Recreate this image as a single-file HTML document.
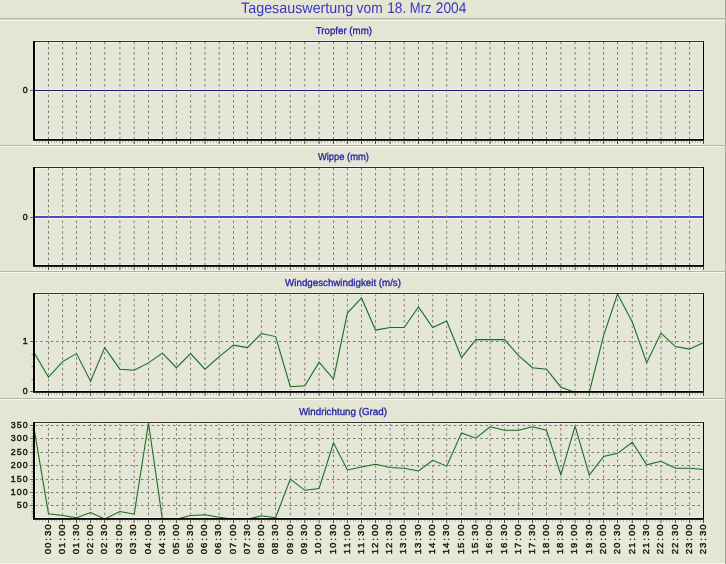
<!DOCTYPE html>
<html><head><meta charset="utf-8"><title>Tagesauswertung</title>
<style>html,body{margin:0;padding:0;background:#E5E5D3;} body{width:726px;height:564px;position:relative;overflow:hidden;}</style>
</head><body>
<svg width="726" height="564" viewBox="0 0 726 564" style="position:absolute;left:0;top:0">
<rect width="726" height="564" fill="#E5E5D3"/>
<rect x="0" y="18" width="726" height="1" fill="#B4B5A4"/>
<rect x="0" y="19" width="726" height="1" fill="#D8D8CA"/>
<rect x="0" y="20" width="726" height="1" fill="#F3F3E8"/>
<rect x="0" y="145" width="726" height="1" fill="#B4B5A4"/>
<rect x="0" y="146" width="726" height="1" fill="#F7F7EE"/>
<rect x="0" y="271" width="726" height="1" fill="#B4B5A4"/>
<rect x="0" y="272" width="726" height="1" fill="#F7F7EE"/>
<rect x="0" y="398" width="726" height="1" fill="#B4B5A4"/>
<rect x="0" y="399" width="726" height="1" fill="#F7F7EE"/>
<rect x="725" y="0" width="1" height="564" fill="#A9AA9A"/>
<rect x="0" y="563" width="725" height="1" fill="#F6F6EA"/>
<text x="241.1" y="13.3" textLength="112.1" text-rendering="geometricPrecision" lengthAdjust="spacingAndGlyphs" font-family="'Liberation Sans', sans-serif" font-size="15.3" fill="#3838C4">Tagesauswertung</text>
<text x="356.6" y="13.3" textLength="26.0" text-rendering="geometricPrecision" lengthAdjust="spacingAndGlyphs" font-family="'Liberation Sans', sans-serif" font-size="15.3" fill="#3838C4">vom</text>
<text x="387.2" y="13.3" textLength="19.1" text-rendering="geometricPrecision" lengthAdjust="spacingAndGlyphs" font-family="'Liberation Sans', sans-serif" font-size="15.3" fill="#3838C4">18.</text>
<text x="409.85" y="13.3" textLength="21.7" text-rendering="geometricPrecision" lengthAdjust="spacingAndGlyphs" font-family="'Liberation Sans', sans-serif" font-size="15.3" fill="#3838C4">Mrz</text>
<text x="435.75" y="13.3" textLength="30.6" text-rendering="geometricPrecision" lengthAdjust="spacingAndGlyphs" font-family="'Liberation Sans', sans-serif" font-size="15.3" fill="#3838C4">2004</text>
<rect x="35" y="42" width="668" height="97" fill="#E6E6D8"/>
<rect x="35" y="42" width="668" height="1" fill="#F4F4EC" fill-opacity="0.8"/>
<rect x="35" y="42" width="1" height="97" fill="#F4F4EC" fill-opacity="0.8"/>
<rect x="35" y="138" width="668" height="1" fill="#F4F4EC" fill-opacity="0.7"/>
<rect x="35" y="89" width="668" height="1" fill="#F6F6EE" fill-opacity="0.7"/>
<rect x="35" y="91" width="668" height="1" fill="#F6F6EE" fill-opacity="0.7"/>
<rect x="35" y="90" width="668" height="1" fill="#161674"/>
<line x1="48.5" y1="41.6" x2="48.5" y2="139" stroke="#7A7A70" stroke-width="1" stroke-dasharray="2.5 2.8"/>
<line x1="62.6" y1="41.6" x2="62.6" y2="139" stroke="#7A7A70" stroke-width="1" stroke-dasharray="2.5 2.8"/>
<line x1="76.5" y1="41.6" x2="76.5" y2="139" stroke="#7A7A70" stroke-width="1" stroke-dasharray="2.5 2.8"/>
<line x1="90.6" y1="41.6" x2="90.6" y2="139" stroke="#7A7A70" stroke-width="1" stroke-dasharray="2.5 2.8"/>
<line x1="104.7" y1="41.6" x2="104.7" y2="139" stroke="#7A7A70" stroke-width="1" stroke-dasharray="2.5 2.8"/>
<line x1="119.9" y1="41.6" x2="119.9" y2="139" stroke="#7A7A70" stroke-width="1" stroke-dasharray="2.5 2.8"/>
<line x1="134.2" y1="41.6" x2="134.2" y2="139" stroke="#7A7A70" stroke-width="1" stroke-dasharray="2.5 2.8"/>
<line x1="148.5" y1="41.6" x2="148.5" y2="139" stroke="#7A7A70" stroke-width="1" stroke-dasharray="2.5 2.8"/>
<line x1="162.4" y1="41.6" x2="162.4" y2="139" stroke="#7A7A70" stroke-width="1" stroke-dasharray="2.5 2.8"/>
<line x1="176.4" y1="41.6" x2="176.4" y2="139" stroke="#7A7A70" stroke-width="1" stroke-dasharray="2.5 2.8"/>
<line x1="190.6" y1="41.6" x2="190.6" y2="139" stroke="#7A7A70" stroke-width="1" stroke-dasharray="2.5 2.8"/>
<line x1="205.0" y1="41.6" x2="205.0" y2="139" stroke="#7A7A70" stroke-width="1" stroke-dasharray="2.5 2.8"/>
<line x1="219.2" y1="41.6" x2="219.2" y2="139" stroke="#7A7A70" stroke-width="1" stroke-dasharray="2.5 2.8"/>
<line x1="233.5" y1="41.6" x2="233.5" y2="139" stroke="#7A7A70" stroke-width="1" stroke-dasharray="2.5 2.8"/>
<line x1="247.4" y1="41.6" x2="247.4" y2="139" stroke="#7A7A70" stroke-width="1" stroke-dasharray="2.5 2.8"/>
<line x1="261.4" y1="41.6" x2="261.4" y2="139" stroke="#7A7A70" stroke-width="1" stroke-dasharray="2.5 2.8"/>
<line x1="275.6" y1="41.6" x2="275.6" y2="139" stroke="#7A7A70" stroke-width="1" stroke-dasharray="2.5 2.8"/>
<line x1="290.3" y1="41.6" x2="290.3" y2="139" stroke="#7A7A70" stroke-width="1" stroke-dasharray="2.5 2.8"/>
<line x1="304.8" y1="41.6" x2="304.8" y2="139" stroke="#7A7A70" stroke-width="1" stroke-dasharray="2.5 2.8"/>
<line x1="319.1" y1="41.6" x2="319.1" y2="139" stroke="#7A7A70" stroke-width="1" stroke-dasharray="2.5 2.8"/>
<line x1="333.5" y1="41.6" x2="333.5" y2="139" stroke="#7A7A70" stroke-width="1" stroke-dasharray="2.5 2.8"/>
<line x1="347.4" y1="41.6" x2="347.4" y2="139" stroke="#7A7A70" stroke-width="1" stroke-dasharray="2.5 2.8"/>
<line x1="361.5" y1="41.6" x2="361.5" y2="139" stroke="#7A7A70" stroke-width="1" stroke-dasharray="2.5 2.8"/>
<line x1="375.55" y1="41.6" x2="375.55" y2="139" stroke="#7A7A70" stroke-width="1" stroke-dasharray="2.5 2.8"/>
<line x1="390.1" y1="41.6" x2="390.1" y2="139" stroke="#7A7A70" stroke-width="1" stroke-dasharray="2.5 2.8"/>
<line x1="404.2" y1="41.6" x2="404.2" y2="139" stroke="#7A7A70" stroke-width="1" stroke-dasharray="2.5 2.8"/>
<line x1="418.5" y1="41.6" x2="418.5" y2="139" stroke="#7A7A70" stroke-width="1" stroke-dasharray="2.5 2.8"/>
<line x1="432.7" y1="41.6" x2="432.7" y2="139" stroke="#7A7A70" stroke-width="1" stroke-dasharray="2.5 2.8"/>
<line x1="446.7" y1="41.6" x2="446.7" y2="139" stroke="#7A7A70" stroke-width="1" stroke-dasharray="2.5 2.8"/>
<line x1="461.5" y1="41.6" x2="461.5" y2="139" stroke="#7A7A70" stroke-width="1" stroke-dasharray="2.5 2.8"/>
<line x1="475.9" y1="41.6" x2="475.9" y2="139" stroke="#7A7A70" stroke-width="1" stroke-dasharray="2.5 2.8"/>
<line x1="490.1" y1="41.6" x2="490.1" y2="139" stroke="#7A7A70" stroke-width="1" stroke-dasharray="2.5 2.8"/>
<line x1="504.5" y1="41.6" x2="504.5" y2="139" stroke="#7A7A70" stroke-width="1" stroke-dasharray="2.5 2.8"/>
<line x1="518.6" y1="41.6" x2="518.6" y2="139" stroke="#7A7A70" stroke-width="1" stroke-dasharray="2.5 2.8"/>
<line x1="532.5" y1="41.6" x2="532.5" y2="139" stroke="#7A7A70" stroke-width="1" stroke-dasharray="2.5 2.8"/>
<line x1="546.5" y1="41.6" x2="546.5" y2="139" stroke="#7A7A70" stroke-width="1" stroke-dasharray="2.5 2.8"/>
<line x1="560.9" y1="41.6" x2="560.9" y2="139" stroke="#7A7A70" stroke-width="1" stroke-dasharray="2.5 2.8"/>
<line x1="575.1" y1="41.6" x2="575.1" y2="139" stroke="#7A7A70" stroke-width="1" stroke-dasharray="2.5 2.8"/>
<line x1="589.3" y1="41.6" x2="589.3" y2="139" stroke="#7A7A70" stroke-width="1" stroke-dasharray="2.5 2.8"/>
<line x1="603.6" y1="41.6" x2="603.6" y2="139" stroke="#7A7A70" stroke-width="1" stroke-dasharray="2.5 2.8"/>
<line x1="617.5" y1="41.6" x2="617.5" y2="139" stroke="#7A7A70" stroke-width="1" stroke-dasharray="2.5 2.8"/>
<line x1="632.3" y1="41.6" x2="632.3" y2="139" stroke="#7A7A70" stroke-width="1" stroke-dasharray="2.5 2.8"/>
<line x1="646.7" y1="41.6" x2="646.7" y2="139" stroke="#7A7A70" stroke-width="1" stroke-dasharray="2.5 2.8"/>
<line x1="661.0" y1="41.6" x2="661.0" y2="139" stroke="#7A7A70" stroke-width="1" stroke-dasharray="2.5 2.8"/>
<line x1="675.4" y1="41.6" x2="675.4" y2="139" stroke="#7A7A70" stroke-width="1" stroke-dasharray="2.5 2.8"/>
<line x1="689.6" y1="41.6" x2="689.6" y2="139" stroke="#7A7A70" stroke-width="1" stroke-dasharray="2.5 2.8"/>
<rect x="33" y="40" width="672" height="1" fill="#F2F2E8" fill-opacity="0.7"/>
<rect x="33" y="141" width="671" height="4" fill="#F2F2E8" fill-opacity="0.55"/>
<rect x="33" y="41" width="671" height="1" fill="#2E2E2E"/>
<rect x="33" y="41" width="2" height="100" fill="#000"/>
<rect x="703" y="41" width="1" height="103" fill="#000"/>
<rect x="33" y="139" width="671" height="1" fill="#000"/>
<rect x="33" y="140" width="671" height="1" fill="#2A2A2A"/>
<line x1="48.5" y1="141" x2="48.5" y2="144" stroke="#4A4A44" stroke-width="1"/>
<line x1="62.6" y1="141" x2="62.6" y2="144" stroke="#4A4A44" stroke-width="1"/>
<line x1="76.5" y1="141" x2="76.5" y2="144" stroke="#4A4A44" stroke-width="1"/>
<line x1="90.6" y1="141" x2="90.6" y2="144" stroke="#4A4A44" stroke-width="1"/>
<line x1="104.7" y1="141" x2="104.7" y2="144" stroke="#4A4A44" stroke-width="1"/>
<line x1="119.9" y1="141" x2="119.9" y2="144" stroke="#4A4A44" stroke-width="1"/>
<line x1="134.2" y1="141" x2="134.2" y2="144" stroke="#4A4A44" stroke-width="1"/>
<line x1="148.5" y1="141" x2="148.5" y2="144" stroke="#4A4A44" stroke-width="1"/>
<line x1="162.4" y1="141" x2="162.4" y2="144" stroke="#4A4A44" stroke-width="1"/>
<line x1="176.4" y1="141" x2="176.4" y2="144" stroke="#4A4A44" stroke-width="1"/>
<line x1="190.6" y1="141" x2="190.6" y2="144" stroke="#4A4A44" stroke-width="1"/>
<line x1="205.0" y1="141" x2="205.0" y2="144" stroke="#4A4A44" stroke-width="1"/>
<line x1="219.2" y1="141" x2="219.2" y2="144" stroke="#4A4A44" stroke-width="1"/>
<line x1="233.5" y1="141" x2="233.5" y2="144" stroke="#4A4A44" stroke-width="1"/>
<line x1="247.4" y1="141" x2="247.4" y2="144" stroke="#4A4A44" stroke-width="1"/>
<line x1="261.4" y1="141" x2="261.4" y2="144" stroke="#4A4A44" stroke-width="1"/>
<line x1="275.6" y1="141" x2="275.6" y2="144" stroke="#4A4A44" stroke-width="1"/>
<line x1="290.3" y1="141" x2="290.3" y2="144" stroke="#4A4A44" stroke-width="1"/>
<line x1="304.8" y1="141" x2="304.8" y2="144" stroke="#4A4A44" stroke-width="1"/>
<line x1="319.1" y1="141" x2="319.1" y2="144" stroke="#4A4A44" stroke-width="1"/>
<line x1="333.5" y1="141" x2="333.5" y2="144" stroke="#4A4A44" stroke-width="1"/>
<line x1="347.4" y1="141" x2="347.4" y2="144" stroke="#4A4A44" stroke-width="1"/>
<line x1="361.5" y1="141" x2="361.5" y2="144" stroke="#4A4A44" stroke-width="1"/>
<line x1="375.55" y1="141" x2="375.55" y2="144" stroke="#4A4A44" stroke-width="1"/>
<line x1="390.1" y1="141" x2="390.1" y2="144" stroke="#4A4A44" stroke-width="1"/>
<line x1="404.2" y1="141" x2="404.2" y2="144" stroke="#4A4A44" stroke-width="1"/>
<line x1="418.5" y1="141" x2="418.5" y2="144" stroke="#4A4A44" stroke-width="1"/>
<line x1="432.7" y1="141" x2="432.7" y2="144" stroke="#4A4A44" stroke-width="1"/>
<line x1="446.7" y1="141" x2="446.7" y2="144" stroke="#4A4A44" stroke-width="1"/>
<line x1="461.5" y1="141" x2="461.5" y2="144" stroke="#4A4A44" stroke-width="1"/>
<line x1="475.9" y1="141" x2="475.9" y2="144" stroke="#4A4A44" stroke-width="1"/>
<line x1="490.1" y1="141" x2="490.1" y2="144" stroke="#4A4A44" stroke-width="1"/>
<line x1="504.5" y1="141" x2="504.5" y2="144" stroke="#4A4A44" stroke-width="1"/>
<line x1="518.6" y1="141" x2="518.6" y2="144" stroke="#4A4A44" stroke-width="1"/>
<line x1="532.5" y1="141" x2="532.5" y2="144" stroke="#4A4A44" stroke-width="1"/>
<line x1="546.5" y1="141" x2="546.5" y2="144" stroke="#4A4A44" stroke-width="1"/>
<line x1="560.9" y1="141" x2="560.9" y2="144" stroke="#4A4A44" stroke-width="1"/>
<line x1="575.1" y1="141" x2="575.1" y2="144" stroke="#4A4A44" stroke-width="1"/>
<line x1="589.3" y1="141" x2="589.3" y2="144" stroke="#4A4A44" stroke-width="1"/>
<line x1="603.6" y1="141" x2="603.6" y2="144" stroke="#4A4A44" stroke-width="1"/>
<line x1="617.5" y1="141" x2="617.5" y2="144" stroke="#4A4A44" stroke-width="1"/>
<line x1="632.3" y1="141" x2="632.3" y2="144" stroke="#4A4A44" stroke-width="1"/>
<line x1="646.7" y1="141" x2="646.7" y2="144" stroke="#4A4A44" stroke-width="1"/>
<line x1="661.0" y1="141" x2="661.0" y2="144" stroke="#4A4A44" stroke-width="1"/>
<line x1="675.4" y1="141" x2="675.4" y2="144" stroke="#4A4A44" stroke-width="1"/>
<line x1="689.6" y1="141" x2="689.6" y2="144" stroke="#4A4A44" stroke-width="1"/>
<line x1="703.5" y1="141" x2="703.5" y2="144" stroke="#4A4A44" stroke-width="1"/>
<line x1="36.5" y1="141.5" x2="36.5" y2="142.5" stroke="#8A8A80" stroke-width="1"/>
<line x1="39.5" y1="141.5" x2="39.5" y2="142.5" stroke="#8A8A80" stroke-width="1"/>
<line x1="42.5" y1="141.5" x2="42.5" y2="142.5" stroke="#8A8A80" stroke-width="1"/>
<line x1="45.5" y1="141.5" x2="45.5" y2="142.5" stroke="#8A8A80" stroke-width="1"/>
<line x1="51.5" y1="141.5" x2="51.5" y2="142.5" stroke="#8A8A80" stroke-width="1"/>
<line x1="54.5" y1="141.5" x2="54.5" y2="142.5" stroke="#8A8A80" stroke-width="1"/>
<line x1="56.5" y1="141.5" x2="56.5" y2="142.5" stroke="#8A8A80" stroke-width="1"/>
<line x1="59.5" y1="141.5" x2="59.5" y2="142.5" stroke="#8A8A80" stroke-width="1"/>
<line x1="65.5" y1="141.5" x2="65.5" y2="142.5" stroke="#8A8A80" stroke-width="1"/>
<line x1="68.5" y1="141.5" x2="68.5" y2="142.5" stroke="#8A8A80" stroke-width="1"/>
<line x1="70.5" y1="141.5" x2="70.5" y2="142.5" stroke="#8A8A80" stroke-width="1"/>
<line x1="73.5" y1="141.5" x2="73.5" y2="142.5" stroke="#8A8A80" stroke-width="1"/>
<line x1="79.5" y1="141.5" x2="79.5" y2="142.5" stroke="#8A8A80" stroke-width="1"/>
<line x1="82.5" y1="141.5" x2="82.5" y2="142.5" stroke="#8A8A80" stroke-width="1"/>
<line x1="84.5" y1="141.5" x2="84.5" y2="142.5" stroke="#8A8A80" stroke-width="1"/>
<line x1="87.5" y1="141.5" x2="87.5" y2="142.5" stroke="#8A8A80" stroke-width="1"/>
<line x1="93.5" y1="141.5" x2="93.5" y2="142.5" stroke="#8A8A80" stroke-width="1"/>
<line x1="96.5" y1="141.5" x2="96.5" y2="142.5" stroke="#8A8A80" stroke-width="1"/>
<line x1="99.5" y1="141.5" x2="99.5" y2="142.5" stroke="#8A8A80" stroke-width="1"/>
<line x1="101.5" y1="141.5" x2="101.5" y2="142.5" stroke="#8A8A80" stroke-width="1"/>
<line x1="107.5" y1="141.5" x2="107.5" y2="142.5" stroke="#8A8A80" stroke-width="1"/>
<line x1="110.5" y1="141.5" x2="110.5" y2="142.5" stroke="#8A8A80" stroke-width="1"/>
<line x1="113.5" y1="141.5" x2="113.5" y2="142.5" stroke="#8A8A80" stroke-width="1"/>
<line x1="116.5" y1="141.5" x2="116.5" y2="142.5" stroke="#8A8A80" stroke-width="1"/>
<line x1="122.5" y1="141.5" x2="122.5" y2="142.5" stroke="#8A8A80" stroke-width="1"/>
<line x1="125.5" y1="141.5" x2="125.5" y2="142.5" stroke="#8A8A80" stroke-width="1"/>
<line x1="128.5" y1="141.5" x2="128.5" y2="142.5" stroke="#8A8A80" stroke-width="1"/>
<line x1="131.5" y1="141.5" x2="131.5" y2="142.5" stroke="#8A8A80" stroke-width="1"/>
<line x1="137.5" y1="141.5" x2="137.5" y2="142.5" stroke="#8A8A80" stroke-width="1"/>
<line x1="139.5" y1="141.5" x2="139.5" y2="142.5" stroke="#8A8A80" stroke-width="1"/>
<line x1="142.5" y1="141.5" x2="142.5" y2="142.5" stroke="#8A8A80" stroke-width="1"/>
<line x1="145.5" y1="141.5" x2="145.5" y2="142.5" stroke="#8A8A80" stroke-width="1"/>
<line x1="151.5" y1="141.5" x2="151.5" y2="142.5" stroke="#8A8A80" stroke-width="1"/>
<line x1="154.5" y1="141.5" x2="154.5" y2="142.5" stroke="#8A8A80" stroke-width="1"/>
<line x1="156.5" y1="141.5" x2="156.5" y2="142.5" stroke="#8A8A80" stroke-width="1"/>
<line x1="159.5" y1="141.5" x2="159.5" y2="142.5" stroke="#8A8A80" stroke-width="1"/>
<line x1="165.5" y1="141.5" x2="165.5" y2="142.5" stroke="#8A8A80" stroke-width="1"/>
<line x1="168.5" y1="141.5" x2="168.5" y2="142.5" stroke="#8A8A80" stroke-width="1"/>
<line x1="170.5" y1="141.5" x2="170.5" y2="142.5" stroke="#8A8A80" stroke-width="1"/>
<line x1="173.5" y1="141.5" x2="173.5" y2="142.5" stroke="#8A8A80" stroke-width="1"/>
<line x1="179.5" y1="141.5" x2="179.5" y2="142.5" stroke="#8A8A80" stroke-width="1"/>
<line x1="182.5" y1="141.5" x2="182.5" y2="142.5" stroke="#8A8A80" stroke-width="1"/>
<line x1="184.5" y1="141.5" x2="184.5" y2="142.5" stroke="#8A8A80" stroke-width="1"/>
<line x1="187.5" y1="141.5" x2="187.5" y2="142.5" stroke="#8A8A80" stroke-width="1"/>
<line x1="193.5" y1="141.5" x2="193.5" y2="142.5" stroke="#8A8A80" stroke-width="1"/>
<line x1="196.5" y1="141.5" x2="196.5" y2="142.5" stroke="#8A8A80" stroke-width="1"/>
<line x1="199.5" y1="141.5" x2="199.5" y2="142.5" stroke="#8A8A80" stroke-width="1"/>
<line x1="202.5" y1="141.5" x2="202.5" y2="142.5" stroke="#8A8A80" stroke-width="1"/>
<line x1="207.5" y1="141.5" x2="207.5" y2="142.5" stroke="#8A8A80" stroke-width="1"/>
<line x1="210.5" y1="141.5" x2="210.5" y2="142.5" stroke="#8A8A80" stroke-width="1"/>
<line x1="213.5" y1="141.5" x2="213.5" y2="142.5" stroke="#8A8A80" stroke-width="1"/>
<line x1="216.5" y1="141.5" x2="216.5" y2="142.5" stroke="#8A8A80" stroke-width="1"/>
<line x1="222.5" y1="141.5" x2="222.5" y2="142.5" stroke="#8A8A80" stroke-width="1"/>
<line x1="224.5" y1="141.5" x2="224.5" y2="142.5" stroke="#8A8A80" stroke-width="1"/>
<line x1="227.5" y1="141.5" x2="227.5" y2="142.5" stroke="#8A8A80" stroke-width="1"/>
<line x1="230.5" y1="141.5" x2="230.5" y2="142.5" stroke="#8A8A80" stroke-width="1"/>
<line x1="236.5" y1="141.5" x2="236.5" y2="142.5" stroke="#8A8A80" stroke-width="1"/>
<line x1="239.5" y1="141.5" x2="239.5" y2="142.5" stroke="#8A8A80" stroke-width="1"/>
<line x1="241.5" y1="141.5" x2="241.5" y2="142.5" stroke="#8A8A80" stroke-width="1"/>
<line x1="244.5" y1="141.5" x2="244.5" y2="142.5" stroke="#8A8A80" stroke-width="1"/>
<line x1="250.5" y1="141.5" x2="250.5" y2="142.5" stroke="#8A8A80" stroke-width="1"/>
<line x1="252.5" y1="141.5" x2="252.5" y2="142.5" stroke="#8A8A80" stroke-width="1"/>
<line x1="255.5" y1="141.5" x2="255.5" y2="142.5" stroke="#8A8A80" stroke-width="1"/>
<line x1="258.5" y1="141.5" x2="258.5" y2="142.5" stroke="#8A8A80" stroke-width="1"/>
<line x1="264.5" y1="141.5" x2="264.5" y2="142.5" stroke="#8A8A80" stroke-width="1"/>
<line x1="267.5" y1="141.5" x2="267.5" y2="142.5" stroke="#8A8A80" stroke-width="1"/>
<line x1="269.5" y1="141.5" x2="269.5" y2="142.5" stroke="#8A8A80" stroke-width="1"/>
<line x1="272.5" y1="141.5" x2="272.5" y2="142.5" stroke="#8A8A80" stroke-width="1"/>
<line x1="278.5" y1="141.5" x2="278.5" y2="142.5" stroke="#8A8A80" stroke-width="1"/>
<line x1="281.5" y1="141.5" x2="281.5" y2="142.5" stroke="#8A8A80" stroke-width="1"/>
<line x1="284.5" y1="141.5" x2="284.5" y2="142.5" stroke="#8A8A80" stroke-width="1"/>
<line x1="287.5" y1="141.5" x2="287.5" y2="142.5" stroke="#8A8A80" stroke-width="1"/>
<line x1="293.5" y1="141.5" x2="293.5" y2="142.5" stroke="#8A8A80" stroke-width="1"/>
<line x1="296.5" y1="141.5" x2="296.5" y2="142.5" stroke="#8A8A80" stroke-width="1"/>
<line x1="298.5" y1="141.5" x2="298.5" y2="142.5" stroke="#8A8A80" stroke-width="1"/>
<line x1="301.5" y1="141.5" x2="301.5" y2="142.5" stroke="#8A8A80" stroke-width="1"/>
<line x1="307.5" y1="141.5" x2="307.5" y2="142.5" stroke="#8A8A80" stroke-width="1"/>
<line x1="310.5" y1="141.5" x2="310.5" y2="142.5" stroke="#8A8A80" stroke-width="1"/>
<line x1="313.5" y1="141.5" x2="313.5" y2="142.5" stroke="#8A8A80" stroke-width="1"/>
<line x1="316.5" y1="141.5" x2="316.5" y2="142.5" stroke="#8A8A80" stroke-width="1"/>
<line x1="321.5" y1="141.5" x2="321.5" y2="142.5" stroke="#8A8A80" stroke-width="1"/>
<line x1="324.5" y1="141.5" x2="324.5" y2="142.5" stroke="#8A8A80" stroke-width="1"/>
<line x1="327.5" y1="141.5" x2="327.5" y2="142.5" stroke="#8A8A80" stroke-width="1"/>
<line x1="330.5" y1="141.5" x2="330.5" y2="142.5" stroke="#8A8A80" stroke-width="1"/>
<line x1="336.5" y1="141.5" x2="336.5" y2="142.5" stroke="#8A8A80" stroke-width="1"/>
<line x1="339.5" y1="141.5" x2="339.5" y2="142.5" stroke="#8A8A80" stroke-width="1"/>
<line x1="341.5" y1="141.5" x2="341.5" y2="142.5" stroke="#8A8A80" stroke-width="1"/>
<line x1="344.5" y1="141.5" x2="344.5" y2="142.5" stroke="#8A8A80" stroke-width="1"/>
<line x1="350.5" y1="141.5" x2="350.5" y2="142.5" stroke="#8A8A80" stroke-width="1"/>
<line x1="353.5" y1="141.5" x2="353.5" y2="142.5" stroke="#8A8A80" stroke-width="1"/>
<line x1="355.5" y1="141.5" x2="355.5" y2="142.5" stroke="#8A8A80" stroke-width="1"/>
<line x1="358.5" y1="141.5" x2="358.5" y2="142.5" stroke="#8A8A80" stroke-width="1"/>
<line x1="364.5" y1="141.5" x2="364.5" y2="142.5" stroke="#8A8A80" stroke-width="1"/>
<line x1="367.5" y1="141.5" x2="367.5" y2="142.5" stroke="#8A8A80" stroke-width="1"/>
<line x1="369.5" y1="141.5" x2="369.5" y2="142.5" stroke="#8A8A80" stroke-width="1"/>
<line x1="372.5" y1="141.5" x2="372.5" y2="142.5" stroke="#8A8A80" stroke-width="1"/>
<line x1="378.5" y1="141.5" x2="378.5" y2="142.5" stroke="#8A8A80" stroke-width="1"/>
<line x1="381.5" y1="141.5" x2="381.5" y2="142.5" stroke="#8A8A80" stroke-width="1"/>
<line x1="384.5" y1="141.5" x2="384.5" y2="142.5" stroke="#8A8A80" stroke-width="1"/>
<line x1="387.5" y1="141.5" x2="387.5" y2="142.5" stroke="#8A8A80" stroke-width="1"/>
<line x1="392.5" y1="141.5" x2="392.5" y2="142.5" stroke="#8A8A80" stroke-width="1"/>
<line x1="395.5" y1="141.5" x2="395.5" y2="142.5" stroke="#8A8A80" stroke-width="1"/>
<line x1="398.5" y1="141.5" x2="398.5" y2="142.5" stroke="#8A8A80" stroke-width="1"/>
<line x1="401.5" y1="141.5" x2="401.5" y2="142.5" stroke="#8A8A80" stroke-width="1"/>
<line x1="407.5" y1="141.5" x2="407.5" y2="142.5" stroke="#8A8A80" stroke-width="1"/>
<line x1="409.5" y1="141.5" x2="409.5" y2="142.5" stroke="#8A8A80" stroke-width="1"/>
<line x1="412.5" y1="141.5" x2="412.5" y2="142.5" stroke="#8A8A80" stroke-width="1"/>
<line x1="415.5" y1="141.5" x2="415.5" y2="142.5" stroke="#8A8A80" stroke-width="1"/>
<line x1="421.5" y1="141.5" x2="421.5" y2="142.5" stroke="#8A8A80" stroke-width="1"/>
<line x1="424.5" y1="141.5" x2="424.5" y2="142.5" stroke="#8A8A80" stroke-width="1"/>
<line x1="427.5" y1="141.5" x2="427.5" y2="142.5" stroke="#8A8A80" stroke-width="1"/>
<line x1="429.5" y1="141.5" x2="429.5" y2="142.5" stroke="#8A8A80" stroke-width="1"/>
<line x1="435.5" y1="141.5" x2="435.5" y2="142.5" stroke="#8A8A80" stroke-width="1"/>
<line x1="438.5" y1="141.5" x2="438.5" y2="142.5" stroke="#8A8A80" stroke-width="1"/>
<line x1="441.5" y1="141.5" x2="441.5" y2="142.5" stroke="#8A8A80" stroke-width="1"/>
<line x1="443.5" y1="141.5" x2="443.5" y2="142.5" stroke="#8A8A80" stroke-width="1"/>
<line x1="449.5" y1="141.5" x2="449.5" y2="142.5" stroke="#8A8A80" stroke-width="1"/>
<line x1="452.5" y1="141.5" x2="452.5" y2="142.5" stroke="#8A8A80" stroke-width="1"/>
<line x1="455.5" y1="141.5" x2="455.5" y2="142.5" stroke="#8A8A80" stroke-width="1"/>
<line x1="458.5" y1="141.5" x2="458.5" y2="142.5" stroke="#8A8A80" stroke-width="1"/>
<line x1="464.5" y1="141.5" x2="464.5" y2="142.5" stroke="#8A8A80" stroke-width="1"/>
<line x1="467.5" y1="141.5" x2="467.5" y2="142.5" stroke="#8A8A80" stroke-width="1"/>
<line x1="470.5" y1="141.5" x2="470.5" y2="142.5" stroke="#8A8A80" stroke-width="1"/>
<line x1="473.5" y1="141.5" x2="473.5" y2="142.5" stroke="#8A8A80" stroke-width="1"/>
<line x1="478.5" y1="141.5" x2="478.5" y2="142.5" stroke="#8A8A80" stroke-width="1"/>
<line x1="481.5" y1="141.5" x2="481.5" y2="142.5" stroke="#8A8A80" stroke-width="1"/>
<line x1="484.5" y1="141.5" x2="484.5" y2="142.5" stroke="#8A8A80" stroke-width="1"/>
<line x1="487.5" y1="141.5" x2="487.5" y2="142.5" stroke="#8A8A80" stroke-width="1"/>
<line x1="492.5" y1="141.5" x2="492.5" y2="142.5" stroke="#8A8A80" stroke-width="1"/>
<line x1="495.5" y1="141.5" x2="495.5" y2="142.5" stroke="#8A8A80" stroke-width="1"/>
<line x1="498.5" y1="141.5" x2="498.5" y2="142.5" stroke="#8A8A80" stroke-width="1"/>
<line x1="501.5" y1="141.5" x2="501.5" y2="142.5" stroke="#8A8A80" stroke-width="1"/>
<line x1="507.5" y1="141.5" x2="507.5" y2="142.5" stroke="#8A8A80" stroke-width="1"/>
<line x1="510.5" y1="141.5" x2="510.5" y2="142.5" stroke="#8A8A80" stroke-width="1"/>
<line x1="512.5" y1="141.5" x2="512.5" y2="142.5" stroke="#8A8A80" stroke-width="1"/>
<line x1="515.5" y1="141.5" x2="515.5" y2="142.5" stroke="#8A8A80" stroke-width="1"/>
<line x1="521.5" y1="141.5" x2="521.5" y2="142.5" stroke="#8A8A80" stroke-width="1"/>
<line x1="524.5" y1="141.5" x2="524.5" y2="142.5" stroke="#8A8A80" stroke-width="1"/>
<line x1="526.5" y1="141.5" x2="526.5" y2="142.5" stroke="#8A8A80" stroke-width="1"/>
<line x1="529.5" y1="141.5" x2="529.5" y2="142.5" stroke="#8A8A80" stroke-width="1"/>
<line x1="535.5" y1="141.5" x2="535.5" y2="142.5" stroke="#8A8A80" stroke-width="1"/>
<line x1="538.5" y1="141.5" x2="538.5" y2="142.5" stroke="#8A8A80" stroke-width="1"/>
<line x1="540.5" y1="141.5" x2="540.5" y2="142.5" stroke="#8A8A80" stroke-width="1"/>
<line x1="543.5" y1="141.5" x2="543.5" y2="142.5" stroke="#8A8A80" stroke-width="1"/>
<line x1="549.5" y1="141.5" x2="549.5" y2="142.5" stroke="#8A8A80" stroke-width="1"/>
<line x1="552.5" y1="141.5" x2="552.5" y2="142.5" stroke="#8A8A80" stroke-width="1"/>
<line x1="555.5" y1="141.5" x2="555.5" y2="142.5" stroke="#8A8A80" stroke-width="1"/>
<line x1="558.5" y1="141.5" x2="558.5" y2="142.5" stroke="#8A8A80" stroke-width="1"/>
<line x1="563.5" y1="141.5" x2="563.5" y2="142.5" stroke="#8A8A80" stroke-width="1"/>
<line x1="566.5" y1="141.5" x2="566.5" y2="142.5" stroke="#8A8A80" stroke-width="1"/>
<line x1="569.5" y1="141.5" x2="569.5" y2="142.5" stroke="#8A8A80" stroke-width="1"/>
<line x1="572.5" y1="141.5" x2="572.5" y2="142.5" stroke="#8A8A80" stroke-width="1"/>
<line x1="577.5" y1="141.5" x2="577.5" y2="142.5" stroke="#8A8A80" stroke-width="1"/>
<line x1="580.5" y1="141.5" x2="580.5" y2="142.5" stroke="#8A8A80" stroke-width="1"/>
<line x1="583.5" y1="141.5" x2="583.5" y2="142.5" stroke="#8A8A80" stroke-width="1"/>
<line x1="586.5" y1="141.5" x2="586.5" y2="142.5" stroke="#8A8A80" stroke-width="1"/>
<line x1="592.5" y1="141.5" x2="592.5" y2="142.5" stroke="#8A8A80" stroke-width="1"/>
<line x1="595.5" y1="141.5" x2="595.5" y2="142.5" stroke="#8A8A80" stroke-width="1"/>
<line x1="597.5" y1="141.5" x2="597.5" y2="142.5" stroke="#8A8A80" stroke-width="1"/>
<line x1="600.5" y1="141.5" x2="600.5" y2="142.5" stroke="#8A8A80" stroke-width="1"/>
<line x1="606.5" y1="141.5" x2="606.5" y2="142.5" stroke="#8A8A80" stroke-width="1"/>
<line x1="609.5" y1="141.5" x2="609.5" y2="142.5" stroke="#8A8A80" stroke-width="1"/>
<line x1="611.5" y1="141.5" x2="611.5" y2="142.5" stroke="#8A8A80" stroke-width="1"/>
<line x1="614.5" y1="141.5" x2="614.5" y2="142.5" stroke="#8A8A80" stroke-width="1"/>
<line x1="620.5" y1="141.5" x2="620.5" y2="142.5" stroke="#8A8A80" stroke-width="1"/>
<line x1="623.5" y1="141.5" x2="623.5" y2="142.5" stroke="#8A8A80" stroke-width="1"/>
<line x1="626.5" y1="141.5" x2="626.5" y2="142.5" stroke="#8A8A80" stroke-width="1"/>
<line x1="629.5" y1="141.5" x2="629.5" y2="142.5" stroke="#8A8A80" stroke-width="1"/>
<line x1="635.5" y1="141.5" x2="635.5" y2="142.5" stroke="#8A8A80" stroke-width="1"/>
<line x1="638.5" y1="141.5" x2="638.5" y2="142.5" stroke="#8A8A80" stroke-width="1"/>
<line x1="640.5" y1="141.5" x2="640.5" y2="142.5" stroke="#8A8A80" stroke-width="1"/>
<line x1="643.5" y1="141.5" x2="643.5" y2="142.5" stroke="#8A8A80" stroke-width="1"/>
<line x1="649.5" y1="141.5" x2="649.5" y2="142.5" stroke="#8A8A80" stroke-width="1"/>
<line x1="652.5" y1="141.5" x2="652.5" y2="142.5" stroke="#8A8A80" stroke-width="1"/>
<line x1="655.5" y1="141.5" x2="655.5" y2="142.5" stroke="#8A8A80" stroke-width="1"/>
<line x1="658.5" y1="141.5" x2="658.5" y2="142.5" stroke="#8A8A80" stroke-width="1"/>
<line x1="663.5" y1="141.5" x2="663.5" y2="142.5" stroke="#8A8A80" stroke-width="1"/>
<line x1="666.5" y1="141.5" x2="666.5" y2="142.5" stroke="#8A8A80" stroke-width="1"/>
<line x1="669.5" y1="141.5" x2="669.5" y2="142.5" stroke="#8A8A80" stroke-width="1"/>
<line x1="672.5" y1="141.5" x2="672.5" y2="142.5" stroke="#8A8A80" stroke-width="1"/>
<line x1="678.5" y1="141.5" x2="678.5" y2="142.5" stroke="#8A8A80" stroke-width="1"/>
<line x1="681.5" y1="141.5" x2="681.5" y2="142.5" stroke="#8A8A80" stroke-width="1"/>
<line x1="683.5" y1="141.5" x2="683.5" y2="142.5" stroke="#8A8A80" stroke-width="1"/>
<line x1="686.5" y1="141.5" x2="686.5" y2="142.5" stroke="#8A8A80" stroke-width="1"/>
<line x1="692.5" y1="141.5" x2="692.5" y2="142.5" stroke="#8A8A80" stroke-width="1"/>
<line x1="695.5" y1="141.5" x2="695.5" y2="142.5" stroke="#8A8A80" stroke-width="1"/>
<line x1="697.5" y1="141.5" x2="697.5" y2="142.5" stroke="#8A8A80" stroke-width="1"/>
<line x1="700.5" y1="141.5" x2="700.5" y2="142.5" stroke="#8A8A80" stroke-width="1"/>
<text x="22.70" y="93.00" font-family="'Liberation Sans', sans-serif" font-size="8.8" fill="#111" stroke="#111" stroke-width="0.4">0</text>
<line x1="30" y1="90.5" x2="33" y2="90.5" stroke="#666" stroke-width="1"/>
<text x="343.85" y="33.6" text-anchor="middle" textLength="56.3" lengthAdjust="spacingAndGlyphs" text-rendering="geometricPrecision" font-family="'Liberation Sans', sans-serif" font-size="10.1" fill="#2222A8" stroke="#2222A8" stroke-width="0.3">Tropfer (mm)</text>
<rect x="35" y="168" width="668" height="97" fill="#E6E6D8"/>
<rect x="35" y="168" width="668" height="1" fill="#F4F4EC" fill-opacity="0.8"/>
<rect x="35" y="168" width="1" height="97" fill="#F4F4EC" fill-opacity="0.8"/>
<rect x="35" y="264" width="668" height="1" fill="#F4F4EC" fill-opacity="0.7"/>
<rect x="35" y="215" width="668" height="1" fill="#F6F6EE" fill-opacity="0.7"/>
<rect x="35" y="218" width="668" height="1" fill="#F6F6EE" fill-opacity="0.7"/>
<rect x="35" y="216" width="668" height="2" fill="#4A4ACE"/>
<line x1="48.5" y1="167.6" x2="48.5" y2="265" stroke="#7A7A70" stroke-width="1" stroke-dasharray="2.5 2.8"/>
<line x1="62.6" y1="167.6" x2="62.6" y2="265" stroke="#7A7A70" stroke-width="1" stroke-dasharray="2.5 2.8"/>
<line x1="76.5" y1="167.6" x2="76.5" y2="265" stroke="#7A7A70" stroke-width="1" stroke-dasharray="2.5 2.8"/>
<line x1="90.6" y1="167.6" x2="90.6" y2="265" stroke="#7A7A70" stroke-width="1" stroke-dasharray="2.5 2.8"/>
<line x1="104.7" y1="167.6" x2="104.7" y2="265" stroke="#7A7A70" stroke-width="1" stroke-dasharray="2.5 2.8"/>
<line x1="119.9" y1="167.6" x2="119.9" y2="265" stroke="#7A7A70" stroke-width="1" stroke-dasharray="2.5 2.8"/>
<line x1="134.2" y1="167.6" x2="134.2" y2="265" stroke="#7A7A70" stroke-width="1" stroke-dasharray="2.5 2.8"/>
<line x1="148.5" y1="167.6" x2="148.5" y2="265" stroke="#7A7A70" stroke-width="1" stroke-dasharray="2.5 2.8"/>
<line x1="162.4" y1="167.6" x2="162.4" y2="265" stroke="#7A7A70" stroke-width="1" stroke-dasharray="2.5 2.8"/>
<line x1="176.4" y1="167.6" x2="176.4" y2="265" stroke="#7A7A70" stroke-width="1" stroke-dasharray="2.5 2.8"/>
<line x1="190.6" y1="167.6" x2="190.6" y2="265" stroke="#7A7A70" stroke-width="1" stroke-dasharray="2.5 2.8"/>
<line x1="205.0" y1="167.6" x2="205.0" y2="265" stroke="#7A7A70" stroke-width="1" stroke-dasharray="2.5 2.8"/>
<line x1="219.2" y1="167.6" x2="219.2" y2="265" stroke="#7A7A70" stroke-width="1" stroke-dasharray="2.5 2.8"/>
<line x1="233.5" y1="167.6" x2="233.5" y2="265" stroke="#7A7A70" stroke-width="1" stroke-dasharray="2.5 2.8"/>
<line x1="247.4" y1="167.6" x2="247.4" y2="265" stroke="#7A7A70" stroke-width="1" stroke-dasharray="2.5 2.8"/>
<line x1="261.4" y1="167.6" x2="261.4" y2="265" stroke="#7A7A70" stroke-width="1" stroke-dasharray="2.5 2.8"/>
<line x1="275.6" y1="167.6" x2="275.6" y2="265" stroke="#7A7A70" stroke-width="1" stroke-dasharray="2.5 2.8"/>
<line x1="290.3" y1="167.6" x2="290.3" y2="265" stroke="#7A7A70" stroke-width="1" stroke-dasharray="2.5 2.8"/>
<line x1="304.8" y1="167.6" x2="304.8" y2="265" stroke="#7A7A70" stroke-width="1" stroke-dasharray="2.5 2.8"/>
<line x1="319.1" y1="167.6" x2="319.1" y2="265" stroke="#7A7A70" stroke-width="1" stroke-dasharray="2.5 2.8"/>
<line x1="333.5" y1="167.6" x2="333.5" y2="265" stroke="#7A7A70" stroke-width="1" stroke-dasharray="2.5 2.8"/>
<line x1="347.4" y1="167.6" x2="347.4" y2="265" stroke="#7A7A70" stroke-width="1" stroke-dasharray="2.5 2.8"/>
<line x1="361.5" y1="167.6" x2="361.5" y2="265" stroke="#7A7A70" stroke-width="1" stroke-dasharray="2.5 2.8"/>
<line x1="375.55" y1="167.6" x2="375.55" y2="265" stroke="#7A7A70" stroke-width="1" stroke-dasharray="2.5 2.8"/>
<line x1="390.1" y1="167.6" x2="390.1" y2="265" stroke="#7A7A70" stroke-width="1" stroke-dasharray="2.5 2.8"/>
<line x1="404.2" y1="167.6" x2="404.2" y2="265" stroke="#7A7A70" stroke-width="1" stroke-dasharray="2.5 2.8"/>
<line x1="418.5" y1="167.6" x2="418.5" y2="265" stroke="#7A7A70" stroke-width="1" stroke-dasharray="2.5 2.8"/>
<line x1="432.7" y1="167.6" x2="432.7" y2="265" stroke="#7A7A70" stroke-width="1" stroke-dasharray="2.5 2.8"/>
<line x1="446.7" y1="167.6" x2="446.7" y2="265" stroke="#7A7A70" stroke-width="1" stroke-dasharray="2.5 2.8"/>
<line x1="461.5" y1="167.6" x2="461.5" y2="265" stroke="#7A7A70" stroke-width="1" stroke-dasharray="2.5 2.8"/>
<line x1="475.9" y1="167.6" x2="475.9" y2="265" stroke="#7A7A70" stroke-width="1" stroke-dasharray="2.5 2.8"/>
<line x1="490.1" y1="167.6" x2="490.1" y2="265" stroke="#7A7A70" stroke-width="1" stroke-dasharray="2.5 2.8"/>
<line x1="504.5" y1="167.6" x2="504.5" y2="265" stroke="#7A7A70" stroke-width="1" stroke-dasharray="2.5 2.8"/>
<line x1="518.6" y1="167.6" x2="518.6" y2="265" stroke="#7A7A70" stroke-width="1" stroke-dasharray="2.5 2.8"/>
<line x1="532.5" y1="167.6" x2="532.5" y2="265" stroke="#7A7A70" stroke-width="1" stroke-dasharray="2.5 2.8"/>
<line x1="546.5" y1="167.6" x2="546.5" y2="265" stroke="#7A7A70" stroke-width="1" stroke-dasharray="2.5 2.8"/>
<line x1="560.9" y1="167.6" x2="560.9" y2="265" stroke="#7A7A70" stroke-width="1" stroke-dasharray="2.5 2.8"/>
<line x1="575.1" y1="167.6" x2="575.1" y2="265" stroke="#7A7A70" stroke-width="1" stroke-dasharray="2.5 2.8"/>
<line x1="589.3" y1="167.6" x2="589.3" y2="265" stroke="#7A7A70" stroke-width="1" stroke-dasharray="2.5 2.8"/>
<line x1="603.6" y1="167.6" x2="603.6" y2="265" stroke="#7A7A70" stroke-width="1" stroke-dasharray="2.5 2.8"/>
<line x1="617.5" y1="167.6" x2="617.5" y2="265" stroke="#7A7A70" stroke-width="1" stroke-dasharray="2.5 2.8"/>
<line x1="632.3" y1="167.6" x2="632.3" y2="265" stroke="#7A7A70" stroke-width="1" stroke-dasharray="2.5 2.8"/>
<line x1="646.7" y1="167.6" x2="646.7" y2="265" stroke="#7A7A70" stroke-width="1" stroke-dasharray="2.5 2.8"/>
<line x1="661.0" y1="167.6" x2="661.0" y2="265" stroke="#7A7A70" stroke-width="1" stroke-dasharray="2.5 2.8"/>
<line x1="675.4" y1="167.6" x2="675.4" y2="265" stroke="#7A7A70" stroke-width="1" stroke-dasharray="2.5 2.8"/>
<line x1="689.6" y1="167.6" x2="689.6" y2="265" stroke="#7A7A70" stroke-width="1" stroke-dasharray="2.5 2.8"/>
<rect x="33" y="166" width="672" height="1" fill="#F2F2E8" fill-opacity="0.7"/>
<rect x="33" y="267" width="671" height="4" fill="#F2F2E8" fill-opacity="0.55"/>
<rect x="33" y="167" width="671" height="1" fill="#2E2E2E"/>
<rect x="33" y="167" width="2" height="100" fill="#000"/>
<rect x="703" y="167" width="1" height="103" fill="#000"/>
<rect x="33" y="265" width="671" height="1" fill="#000"/>
<rect x="33" y="266" width="671" height="1" fill="#2A2A2A"/>
<line x1="48.5" y1="267" x2="48.5" y2="270" stroke="#4A4A44" stroke-width="1"/>
<line x1="62.6" y1="267" x2="62.6" y2="270" stroke="#4A4A44" stroke-width="1"/>
<line x1="76.5" y1="267" x2="76.5" y2="270" stroke="#4A4A44" stroke-width="1"/>
<line x1="90.6" y1="267" x2="90.6" y2="270" stroke="#4A4A44" stroke-width="1"/>
<line x1="104.7" y1="267" x2="104.7" y2="270" stroke="#4A4A44" stroke-width="1"/>
<line x1="119.9" y1="267" x2="119.9" y2="270" stroke="#4A4A44" stroke-width="1"/>
<line x1="134.2" y1="267" x2="134.2" y2="270" stroke="#4A4A44" stroke-width="1"/>
<line x1="148.5" y1="267" x2="148.5" y2="270" stroke="#4A4A44" stroke-width="1"/>
<line x1="162.4" y1="267" x2="162.4" y2="270" stroke="#4A4A44" stroke-width="1"/>
<line x1="176.4" y1="267" x2="176.4" y2="270" stroke="#4A4A44" stroke-width="1"/>
<line x1="190.6" y1="267" x2="190.6" y2="270" stroke="#4A4A44" stroke-width="1"/>
<line x1="205.0" y1="267" x2="205.0" y2="270" stroke="#4A4A44" stroke-width="1"/>
<line x1="219.2" y1="267" x2="219.2" y2="270" stroke="#4A4A44" stroke-width="1"/>
<line x1="233.5" y1="267" x2="233.5" y2="270" stroke="#4A4A44" stroke-width="1"/>
<line x1="247.4" y1="267" x2="247.4" y2="270" stroke="#4A4A44" stroke-width="1"/>
<line x1="261.4" y1="267" x2="261.4" y2="270" stroke="#4A4A44" stroke-width="1"/>
<line x1="275.6" y1="267" x2="275.6" y2="270" stroke="#4A4A44" stroke-width="1"/>
<line x1="290.3" y1="267" x2="290.3" y2="270" stroke="#4A4A44" stroke-width="1"/>
<line x1="304.8" y1="267" x2="304.8" y2="270" stroke="#4A4A44" stroke-width="1"/>
<line x1="319.1" y1="267" x2="319.1" y2="270" stroke="#4A4A44" stroke-width="1"/>
<line x1="333.5" y1="267" x2="333.5" y2="270" stroke="#4A4A44" stroke-width="1"/>
<line x1="347.4" y1="267" x2="347.4" y2="270" stroke="#4A4A44" stroke-width="1"/>
<line x1="361.5" y1="267" x2="361.5" y2="270" stroke="#4A4A44" stroke-width="1"/>
<line x1="375.55" y1="267" x2="375.55" y2="270" stroke="#4A4A44" stroke-width="1"/>
<line x1="390.1" y1="267" x2="390.1" y2="270" stroke="#4A4A44" stroke-width="1"/>
<line x1="404.2" y1="267" x2="404.2" y2="270" stroke="#4A4A44" stroke-width="1"/>
<line x1="418.5" y1="267" x2="418.5" y2="270" stroke="#4A4A44" stroke-width="1"/>
<line x1="432.7" y1="267" x2="432.7" y2="270" stroke="#4A4A44" stroke-width="1"/>
<line x1="446.7" y1="267" x2="446.7" y2="270" stroke="#4A4A44" stroke-width="1"/>
<line x1="461.5" y1="267" x2="461.5" y2="270" stroke="#4A4A44" stroke-width="1"/>
<line x1="475.9" y1="267" x2="475.9" y2="270" stroke="#4A4A44" stroke-width="1"/>
<line x1="490.1" y1="267" x2="490.1" y2="270" stroke="#4A4A44" stroke-width="1"/>
<line x1="504.5" y1="267" x2="504.5" y2="270" stroke="#4A4A44" stroke-width="1"/>
<line x1="518.6" y1="267" x2="518.6" y2="270" stroke="#4A4A44" stroke-width="1"/>
<line x1="532.5" y1="267" x2="532.5" y2="270" stroke="#4A4A44" stroke-width="1"/>
<line x1="546.5" y1="267" x2="546.5" y2="270" stroke="#4A4A44" stroke-width="1"/>
<line x1="560.9" y1="267" x2="560.9" y2="270" stroke="#4A4A44" stroke-width="1"/>
<line x1="575.1" y1="267" x2="575.1" y2="270" stroke="#4A4A44" stroke-width="1"/>
<line x1="589.3" y1="267" x2="589.3" y2="270" stroke="#4A4A44" stroke-width="1"/>
<line x1="603.6" y1="267" x2="603.6" y2="270" stroke="#4A4A44" stroke-width="1"/>
<line x1="617.5" y1="267" x2="617.5" y2="270" stroke="#4A4A44" stroke-width="1"/>
<line x1="632.3" y1="267" x2="632.3" y2="270" stroke="#4A4A44" stroke-width="1"/>
<line x1="646.7" y1="267" x2="646.7" y2="270" stroke="#4A4A44" stroke-width="1"/>
<line x1="661.0" y1="267" x2="661.0" y2="270" stroke="#4A4A44" stroke-width="1"/>
<line x1="675.4" y1="267" x2="675.4" y2="270" stroke="#4A4A44" stroke-width="1"/>
<line x1="689.6" y1="267" x2="689.6" y2="270" stroke="#4A4A44" stroke-width="1"/>
<line x1="703.5" y1="267" x2="703.5" y2="270" stroke="#4A4A44" stroke-width="1"/>
<line x1="36.5" y1="267.5" x2="36.5" y2="268.5" stroke="#8A8A80" stroke-width="1"/>
<line x1="39.5" y1="267.5" x2="39.5" y2="268.5" stroke="#8A8A80" stroke-width="1"/>
<line x1="42.5" y1="267.5" x2="42.5" y2="268.5" stroke="#8A8A80" stroke-width="1"/>
<line x1="45.5" y1="267.5" x2="45.5" y2="268.5" stroke="#8A8A80" stroke-width="1"/>
<line x1="51.5" y1="267.5" x2="51.5" y2="268.5" stroke="#8A8A80" stroke-width="1"/>
<line x1="54.5" y1="267.5" x2="54.5" y2="268.5" stroke="#8A8A80" stroke-width="1"/>
<line x1="56.5" y1="267.5" x2="56.5" y2="268.5" stroke="#8A8A80" stroke-width="1"/>
<line x1="59.5" y1="267.5" x2="59.5" y2="268.5" stroke="#8A8A80" stroke-width="1"/>
<line x1="65.5" y1="267.5" x2="65.5" y2="268.5" stroke="#8A8A80" stroke-width="1"/>
<line x1="68.5" y1="267.5" x2="68.5" y2="268.5" stroke="#8A8A80" stroke-width="1"/>
<line x1="70.5" y1="267.5" x2="70.5" y2="268.5" stroke="#8A8A80" stroke-width="1"/>
<line x1="73.5" y1="267.5" x2="73.5" y2="268.5" stroke="#8A8A80" stroke-width="1"/>
<line x1="79.5" y1="267.5" x2="79.5" y2="268.5" stroke="#8A8A80" stroke-width="1"/>
<line x1="82.5" y1="267.5" x2="82.5" y2="268.5" stroke="#8A8A80" stroke-width="1"/>
<line x1="84.5" y1="267.5" x2="84.5" y2="268.5" stroke="#8A8A80" stroke-width="1"/>
<line x1="87.5" y1="267.5" x2="87.5" y2="268.5" stroke="#8A8A80" stroke-width="1"/>
<line x1="93.5" y1="267.5" x2="93.5" y2="268.5" stroke="#8A8A80" stroke-width="1"/>
<line x1="96.5" y1="267.5" x2="96.5" y2="268.5" stroke="#8A8A80" stroke-width="1"/>
<line x1="99.5" y1="267.5" x2="99.5" y2="268.5" stroke="#8A8A80" stroke-width="1"/>
<line x1="101.5" y1="267.5" x2="101.5" y2="268.5" stroke="#8A8A80" stroke-width="1"/>
<line x1="107.5" y1="267.5" x2="107.5" y2="268.5" stroke="#8A8A80" stroke-width="1"/>
<line x1="110.5" y1="267.5" x2="110.5" y2="268.5" stroke="#8A8A80" stroke-width="1"/>
<line x1="113.5" y1="267.5" x2="113.5" y2="268.5" stroke="#8A8A80" stroke-width="1"/>
<line x1="116.5" y1="267.5" x2="116.5" y2="268.5" stroke="#8A8A80" stroke-width="1"/>
<line x1="122.5" y1="267.5" x2="122.5" y2="268.5" stroke="#8A8A80" stroke-width="1"/>
<line x1="125.5" y1="267.5" x2="125.5" y2="268.5" stroke="#8A8A80" stroke-width="1"/>
<line x1="128.5" y1="267.5" x2="128.5" y2="268.5" stroke="#8A8A80" stroke-width="1"/>
<line x1="131.5" y1="267.5" x2="131.5" y2="268.5" stroke="#8A8A80" stroke-width="1"/>
<line x1="137.5" y1="267.5" x2="137.5" y2="268.5" stroke="#8A8A80" stroke-width="1"/>
<line x1="139.5" y1="267.5" x2="139.5" y2="268.5" stroke="#8A8A80" stroke-width="1"/>
<line x1="142.5" y1="267.5" x2="142.5" y2="268.5" stroke="#8A8A80" stroke-width="1"/>
<line x1="145.5" y1="267.5" x2="145.5" y2="268.5" stroke="#8A8A80" stroke-width="1"/>
<line x1="151.5" y1="267.5" x2="151.5" y2="268.5" stroke="#8A8A80" stroke-width="1"/>
<line x1="154.5" y1="267.5" x2="154.5" y2="268.5" stroke="#8A8A80" stroke-width="1"/>
<line x1="156.5" y1="267.5" x2="156.5" y2="268.5" stroke="#8A8A80" stroke-width="1"/>
<line x1="159.5" y1="267.5" x2="159.5" y2="268.5" stroke="#8A8A80" stroke-width="1"/>
<line x1="165.5" y1="267.5" x2="165.5" y2="268.5" stroke="#8A8A80" stroke-width="1"/>
<line x1="168.5" y1="267.5" x2="168.5" y2="268.5" stroke="#8A8A80" stroke-width="1"/>
<line x1="170.5" y1="267.5" x2="170.5" y2="268.5" stroke="#8A8A80" stroke-width="1"/>
<line x1="173.5" y1="267.5" x2="173.5" y2="268.5" stroke="#8A8A80" stroke-width="1"/>
<line x1="179.5" y1="267.5" x2="179.5" y2="268.5" stroke="#8A8A80" stroke-width="1"/>
<line x1="182.5" y1="267.5" x2="182.5" y2="268.5" stroke="#8A8A80" stroke-width="1"/>
<line x1="184.5" y1="267.5" x2="184.5" y2="268.5" stroke="#8A8A80" stroke-width="1"/>
<line x1="187.5" y1="267.5" x2="187.5" y2="268.5" stroke="#8A8A80" stroke-width="1"/>
<line x1="193.5" y1="267.5" x2="193.5" y2="268.5" stroke="#8A8A80" stroke-width="1"/>
<line x1="196.5" y1="267.5" x2="196.5" y2="268.5" stroke="#8A8A80" stroke-width="1"/>
<line x1="199.5" y1="267.5" x2="199.5" y2="268.5" stroke="#8A8A80" stroke-width="1"/>
<line x1="202.5" y1="267.5" x2="202.5" y2="268.5" stroke="#8A8A80" stroke-width="1"/>
<line x1="207.5" y1="267.5" x2="207.5" y2="268.5" stroke="#8A8A80" stroke-width="1"/>
<line x1="210.5" y1="267.5" x2="210.5" y2="268.5" stroke="#8A8A80" stroke-width="1"/>
<line x1="213.5" y1="267.5" x2="213.5" y2="268.5" stroke="#8A8A80" stroke-width="1"/>
<line x1="216.5" y1="267.5" x2="216.5" y2="268.5" stroke="#8A8A80" stroke-width="1"/>
<line x1="222.5" y1="267.5" x2="222.5" y2="268.5" stroke="#8A8A80" stroke-width="1"/>
<line x1="224.5" y1="267.5" x2="224.5" y2="268.5" stroke="#8A8A80" stroke-width="1"/>
<line x1="227.5" y1="267.5" x2="227.5" y2="268.5" stroke="#8A8A80" stroke-width="1"/>
<line x1="230.5" y1="267.5" x2="230.5" y2="268.5" stroke="#8A8A80" stroke-width="1"/>
<line x1="236.5" y1="267.5" x2="236.5" y2="268.5" stroke="#8A8A80" stroke-width="1"/>
<line x1="239.5" y1="267.5" x2="239.5" y2="268.5" stroke="#8A8A80" stroke-width="1"/>
<line x1="241.5" y1="267.5" x2="241.5" y2="268.5" stroke="#8A8A80" stroke-width="1"/>
<line x1="244.5" y1="267.5" x2="244.5" y2="268.5" stroke="#8A8A80" stroke-width="1"/>
<line x1="250.5" y1="267.5" x2="250.5" y2="268.5" stroke="#8A8A80" stroke-width="1"/>
<line x1="252.5" y1="267.5" x2="252.5" y2="268.5" stroke="#8A8A80" stroke-width="1"/>
<line x1="255.5" y1="267.5" x2="255.5" y2="268.5" stroke="#8A8A80" stroke-width="1"/>
<line x1="258.5" y1="267.5" x2="258.5" y2="268.5" stroke="#8A8A80" stroke-width="1"/>
<line x1="264.5" y1="267.5" x2="264.5" y2="268.5" stroke="#8A8A80" stroke-width="1"/>
<line x1="267.5" y1="267.5" x2="267.5" y2="268.5" stroke="#8A8A80" stroke-width="1"/>
<line x1="269.5" y1="267.5" x2="269.5" y2="268.5" stroke="#8A8A80" stroke-width="1"/>
<line x1="272.5" y1="267.5" x2="272.5" y2="268.5" stroke="#8A8A80" stroke-width="1"/>
<line x1="278.5" y1="267.5" x2="278.5" y2="268.5" stroke="#8A8A80" stroke-width="1"/>
<line x1="281.5" y1="267.5" x2="281.5" y2="268.5" stroke="#8A8A80" stroke-width="1"/>
<line x1="284.5" y1="267.5" x2="284.5" y2="268.5" stroke="#8A8A80" stroke-width="1"/>
<line x1="287.5" y1="267.5" x2="287.5" y2="268.5" stroke="#8A8A80" stroke-width="1"/>
<line x1="293.5" y1="267.5" x2="293.5" y2="268.5" stroke="#8A8A80" stroke-width="1"/>
<line x1="296.5" y1="267.5" x2="296.5" y2="268.5" stroke="#8A8A80" stroke-width="1"/>
<line x1="298.5" y1="267.5" x2="298.5" y2="268.5" stroke="#8A8A80" stroke-width="1"/>
<line x1="301.5" y1="267.5" x2="301.5" y2="268.5" stroke="#8A8A80" stroke-width="1"/>
<line x1="307.5" y1="267.5" x2="307.5" y2="268.5" stroke="#8A8A80" stroke-width="1"/>
<line x1="310.5" y1="267.5" x2="310.5" y2="268.5" stroke="#8A8A80" stroke-width="1"/>
<line x1="313.5" y1="267.5" x2="313.5" y2="268.5" stroke="#8A8A80" stroke-width="1"/>
<line x1="316.5" y1="267.5" x2="316.5" y2="268.5" stroke="#8A8A80" stroke-width="1"/>
<line x1="321.5" y1="267.5" x2="321.5" y2="268.5" stroke="#8A8A80" stroke-width="1"/>
<line x1="324.5" y1="267.5" x2="324.5" y2="268.5" stroke="#8A8A80" stroke-width="1"/>
<line x1="327.5" y1="267.5" x2="327.5" y2="268.5" stroke="#8A8A80" stroke-width="1"/>
<line x1="330.5" y1="267.5" x2="330.5" y2="268.5" stroke="#8A8A80" stroke-width="1"/>
<line x1="336.5" y1="267.5" x2="336.5" y2="268.5" stroke="#8A8A80" stroke-width="1"/>
<line x1="339.5" y1="267.5" x2="339.5" y2="268.5" stroke="#8A8A80" stroke-width="1"/>
<line x1="341.5" y1="267.5" x2="341.5" y2="268.5" stroke="#8A8A80" stroke-width="1"/>
<line x1="344.5" y1="267.5" x2="344.5" y2="268.5" stroke="#8A8A80" stroke-width="1"/>
<line x1="350.5" y1="267.5" x2="350.5" y2="268.5" stroke="#8A8A80" stroke-width="1"/>
<line x1="353.5" y1="267.5" x2="353.5" y2="268.5" stroke="#8A8A80" stroke-width="1"/>
<line x1="355.5" y1="267.5" x2="355.5" y2="268.5" stroke="#8A8A80" stroke-width="1"/>
<line x1="358.5" y1="267.5" x2="358.5" y2="268.5" stroke="#8A8A80" stroke-width="1"/>
<line x1="364.5" y1="267.5" x2="364.5" y2="268.5" stroke="#8A8A80" stroke-width="1"/>
<line x1="367.5" y1="267.5" x2="367.5" y2="268.5" stroke="#8A8A80" stroke-width="1"/>
<line x1="369.5" y1="267.5" x2="369.5" y2="268.5" stroke="#8A8A80" stroke-width="1"/>
<line x1="372.5" y1="267.5" x2="372.5" y2="268.5" stroke="#8A8A80" stroke-width="1"/>
<line x1="378.5" y1="267.5" x2="378.5" y2="268.5" stroke="#8A8A80" stroke-width="1"/>
<line x1="381.5" y1="267.5" x2="381.5" y2="268.5" stroke="#8A8A80" stroke-width="1"/>
<line x1="384.5" y1="267.5" x2="384.5" y2="268.5" stroke="#8A8A80" stroke-width="1"/>
<line x1="387.5" y1="267.5" x2="387.5" y2="268.5" stroke="#8A8A80" stroke-width="1"/>
<line x1="392.5" y1="267.5" x2="392.5" y2="268.5" stroke="#8A8A80" stroke-width="1"/>
<line x1="395.5" y1="267.5" x2="395.5" y2="268.5" stroke="#8A8A80" stroke-width="1"/>
<line x1="398.5" y1="267.5" x2="398.5" y2="268.5" stroke="#8A8A80" stroke-width="1"/>
<line x1="401.5" y1="267.5" x2="401.5" y2="268.5" stroke="#8A8A80" stroke-width="1"/>
<line x1="407.5" y1="267.5" x2="407.5" y2="268.5" stroke="#8A8A80" stroke-width="1"/>
<line x1="409.5" y1="267.5" x2="409.5" y2="268.5" stroke="#8A8A80" stroke-width="1"/>
<line x1="412.5" y1="267.5" x2="412.5" y2="268.5" stroke="#8A8A80" stroke-width="1"/>
<line x1="415.5" y1="267.5" x2="415.5" y2="268.5" stroke="#8A8A80" stroke-width="1"/>
<line x1="421.5" y1="267.5" x2="421.5" y2="268.5" stroke="#8A8A80" stroke-width="1"/>
<line x1="424.5" y1="267.5" x2="424.5" y2="268.5" stroke="#8A8A80" stroke-width="1"/>
<line x1="427.5" y1="267.5" x2="427.5" y2="268.5" stroke="#8A8A80" stroke-width="1"/>
<line x1="429.5" y1="267.5" x2="429.5" y2="268.5" stroke="#8A8A80" stroke-width="1"/>
<line x1="435.5" y1="267.5" x2="435.5" y2="268.5" stroke="#8A8A80" stroke-width="1"/>
<line x1="438.5" y1="267.5" x2="438.5" y2="268.5" stroke="#8A8A80" stroke-width="1"/>
<line x1="441.5" y1="267.5" x2="441.5" y2="268.5" stroke="#8A8A80" stroke-width="1"/>
<line x1="443.5" y1="267.5" x2="443.5" y2="268.5" stroke="#8A8A80" stroke-width="1"/>
<line x1="449.5" y1="267.5" x2="449.5" y2="268.5" stroke="#8A8A80" stroke-width="1"/>
<line x1="452.5" y1="267.5" x2="452.5" y2="268.5" stroke="#8A8A80" stroke-width="1"/>
<line x1="455.5" y1="267.5" x2="455.5" y2="268.5" stroke="#8A8A80" stroke-width="1"/>
<line x1="458.5" y1="267.5" x2="458.5" y2="268.5" stroke="#8A8A80" stroke-width="1"/>
<line x1="464.5" y1="267.5" x2="464.5" y2="268.5" stroke="#8A8A80" stroke-width="1"/>
<line x1="467.5" y1="267.5" x2="467.5" y2="268.5" stroke="#8A8A80" stroke-width="1"/>
<line x1="470.5" y1="267.5" x2="470.5" y2="268.5" stroke="#8A8A80" stroke-width="1"/>
<line x1="473.5" y1="267.5" x2="473.5" y2="268.5" stroke="#8A8A80" stroke-width="1"/>
<line x1="478.5" y1="267.5" x2="478.5" y2="268.5" stroke="#8A8A80" stroke-width="1"/>
<line x1="481.5" y1="267.5" x2="481.5" y2="268.5" stroke="#8A8A80" stroke-width="1"/>
<line x1="484.5" y1="267.5" x2="484.5" y2="268.5" stroke="#8A8A80" stroke-width="1"/>
<line x1="487.5" y1="267.5" x2="487.5" y2="268.5" stroke="#8A8A80" stroke-width="1"/>
<line x1="492.5" y1="267.5" x2="492.5" y2="268.5" stroke="#8A8A80" stroke-width="1"/>
<line x1="495.5" y1="267.5" x2="495.5" y2="268.5" stroke="#8A8A80" stroke-width="1"/>
<line x1="498.5" y1="267.5" x2="498.5" y2="268.5" stroke="#8A8A80" stroke-width="1"/>
<line x1="501.5" y1="267.5" x2="501.5" y2="268.5" stroke="#8A8A80" stroke-width="1"/>
<line x1="507.5" y1="267.5" x2="507.5" y2="268.5" stroke="#8A8A80" stroke-width="1"/>
<line x1="510.5" y1="267.5" x2="510.5" y2="268.5" stroke="#8A8A80" stroke-width="1"/>
<line x1="512.5" y1="267.5" x2="512.5" y2="268.5" stroke="#8A8A80" stroke-width="1"/>
<line x1="515.5" y1="267.5" x2="515.5" y2="268.5" stroke="#8A8A80" stroke-width="1"/>
<line x1="521.5" y1="267.5" x2="521.5" y2="268.5" stroke="#8A8A80" stroke-width="1"/>
<line x1="524.5" y1="267.5" x2="524.5" y2="268.5" stroke="#8A8A80" stroke-width="1"/>
<line x1="526.5" y1="267.5" x2="526.5" y2="268.5" stroke="#8A8A80" stroke-width="1"/>
<line x1="529.5" y1="267.5" x2="529.5" y2="268.5" stroke="#8A8A80" stroke-width="1"/>
<line x1="535.5" y1="267.5" x2="535.5" y2="268.5" stroke="#8A8A80" stroke-width="1"/>
<line x1="538.5" y1="267.5" x2="538.5" y2="268.5" stroke="#8A8A80" stroke-width="1"/>
<line x1="540.5" y1="267.5" x2="540.5" y2="268.5" stroke="#8A8A80" stroke-width="1"/>
<line x1="543.5" y1="267.5" x2="543.5" y2="268.5" stroke="#8A8A80" stroke-width="1"/>
<line x1="549.5" y1="267.5" x2="549.5" y2="268.5" stroke="#8A8A80" stroke-width="1"/>
<line x1="552.5" y1="267.5" x2="552.5" y2="268.5" stroke="#8A8A80" stroke-width="1"/>
<line x1="555.5" y1="267.5" x2="555.5" y2="268.5" stroke="#8A8A80" stroke-width="1"/>
<line x1="558.5" y1="267.5" x2="558.5" y2="268.5" stroke="#8A8A80" stroke-width="1"/>
<line x1="563.5" y1="267.5" x2="563.5" y2="268.5" stroke="#8A8A80" stroke-width="1"/>
<line x1="566.5" y1="267.5" x2="566.5" y2="268.5" stroke="#8A8A80" stroke-width="1"/>
<line x1="569.5" y1="267.5" x2="569.5" y2="268.5" stroke="#8A8A80" stroke-width="1"/>
<line x1="572.5" y1="267.5" x2="572.5" y2="268.5" stroke="#8A8A80" stroke-width="1"/>
<line x1="577.5" y1="267.5" x2="577.5" y2="268.5" stroke="#8A8A80" stroke-width="1"/>
<line x1="580.5" y1="267.5" x2="580.5" y2="268.5" stroke="#8A8A80" stroke-width="1"/>
<line x1="583.5" y1="267.5" x2="583.5" y2="268.5" stroke="#8A8A80" stroke-width="1"/>
<line x1="586.5" y1="267.5" x2="586.5" y2="268.5" stroke="#8A8A80" stroke-width="1"/>
<line x1="592.5" y1="267.5" x2="592.5" y2="268.5" stroke="#8A8A80" stroke-width="1"/>
<line x1="595.5" y1="267.5" x2="595.5" y2="268.5" stroke="#8A8A80" stroke-width="1"/>
<line x1="597.5" y1="267.5" x2="597.5" y2="268.5" stroke="#8A8A80" stroke-width="1"/>
<line x1="600.5" y1="267.5" x2="600.5" y2="268.5" stroke="#8A8A80" stroke-width="1"/>
<line x1="606.5" y1="267.5" x2="606.5" y2="268.5" stroke="#8A8A80" stroke-width="1"/>
<line x1="609.5" y1="267.5" x2="609.5" y2="268.5" stroke="#8A8A80" stroke-width="1"/>
<line x1="611.5" y1="267.5" x2="611.5" y2="268.5" stroke="#8A8A80" stroke-width="1"/>
<line x1="614.5" y1="267.5" x2="614.5" y2="268.5" stroke="#8A8A80" stroke-width="1"/>
<line x1="620.5" y1="267.5" x2="620.5" y2="268.5" stroke="#8A8A80" stroke-width="1"/>
<line x1="623.5" y1="267.5" x2="623.5" y2="268.5" stroke="#8A8A80" stroke-width="1"/>
<line x1="626.5" y1="267.5" x2="626.5" y2="268.5" stroke="#8A8A80" stroke-width="1"/>
<line x1="629.5" y1="267.5" x2="629.5" y2="268.5" stroke="#8A8A80" stroke-width="1"/>
<line x1="635.5" y1="267.5" x2="635.5" y2="268.5" stroke="#8A8A80" stroke-width="1"/>
<line x1="638.5" y1="267.5" x2="638.5" y2="268.5" stroke="#8A8A80" stroke-width="1"/>
<line x1="640.5" y1="267.5" x2="640.5" y2="268.5" stroke="#8A8A80" stroke-width="1"/>
<line x1="643.5" y1="267.5" x2="643.5" y2="268.5" stroke="#8A8A80" stroke-width="1"/>
<line x1="649.5" y1="267.5" x2="649.5" y2="268.5" stroke="#8A8A80" stroke-width="1"/>
<line x1="652.5" y1="267.5" x2="652.5" y2="268.5" stroke="#8A8A80" stroke-width="1"/>
<line x1="655.5" y1="267.5" x2="655.5" y2="268.5" stroke="#8A8A80" stroke-width="1"/>
<line x1="658.5" y1="267.5" x2="658.5" y2="268.5" stroke="#8A8A80" stroke-width="1"/>
<line x1="663.5" y1="267.5" x2="663.5" y2="268.5" stroke="#8A8A80" stroke-width="1"/>
<line x1="666.5" y1="267.5" x2="666.5" y2="268.5" stroke="#8A8A80" stroke-width="1"/>
<line x1="669.5" y1="267.5" x2="669.5" y2="268.5" stroke="#8A8A80" stroke-width="1"/>
<line x1="672.5" y1="267.5" x2="672.5" y2="268.5" stroke="#8A8A80" stroke-width="1"/>
<line x1="678.5" y1="267.5" x2="678.5" y2="268.5" stroke="#8A8A80" stroke-width="1"/>
<line x1="681.5" y1="267.5" x2="681.5" y2="268.5" stroke="#8A8A80" stroke-width="1"/>
<line x1="683.5" y1="267.5" x2="683.5" y2="268.5" stroke="#8A8A80" stroke-width="1"/>
<line x1="686.5" y1="267.5" x2="686.5" y2="268.5" stroke="#8A8A80" stroke-width="1"/>
<line x1="692.5" y1="267.5" x2="692.5" y2="268.5" stroke="#8A8A80" stroke-width="1"/>
<line x1="695.5" y1="267.5" x2="695.5" y2="268.5" stroke="#8A8A80" stroke-width="1"/>
<line x1="697.5" y1="267.5" x2="697.5" y2="268.5" stroke="#8A8A80" stroke-width="1"/>
<line x1="700.5" y1="267.5" x2="700.5" y2="268.5" stroke="#8A8A80" stroke-width="1"/>
<text x="22.70" y="219.80" font-family="'Liberation Sans', sans-serif" font-size="8.8" fill="#111" stroke="#111" stroke-width="0.4">0</text>
<line x1="30" y1="217.5" x2="33" y2="217.5" stroke="#666" stroke-width="1"/>
<text x="343.4" y="159.9" text-anchor="middle" textLength="51.0" lengthAdjust="spacingAndGlyphs" text-rendering="geometricPrecision" font-family="'Liberation Sans', sans-serif" font-size="10.1" fill="#2222A8" stroke="#2222A8" stroke-width="0.3">Wippe (mm)</text>
<rect x="35" y="294" width="668" height="97" fill="#E6E6D8"/>
<line x1="48.5" y1="293.6" x2="48.5" y2="391" stroke="#7A7A70" stroke-width="1" stroke-dasharray="2.5 2.8"/>
<line x1="62.6" y1="293.6" x2="62.6" y2="391" stroke="#7A7A70" stroke-width="1" stroke-dasharray="2.5 2.8"/>
<line x1="76.5" y1="293.6" x2="76.5" y2="391" stroke="#7A7A70" stroke-width="1" stroke-dasharray="2.5 2.8"/>
<line x1="90.6" y1="293.6" x2="90.6" y2="391" stroke="#7A7A70" stroke-width="1" stroke-dasharray="2.5 2.8"/>
<line x1="104.7" y1="293.6" x2="104.7" y2="391" stroke="#7A7A70" stroke-width="1" stroke-dasharray="2.5 2.8"/>
<line x1="119.9" y1="293.6" x2="119.9" y2="391" stroke="#7A7A70" stroke-width="1" stroke-dasharray="2.5 2.8"/>
<line x1="134.2" y1="293.6" x2="134.2" y2="391" stroke="#7A7A70" stroke-width="1" stroke-dasharray="2.5 2.8"/>
<line x1="148.5" y1="293.6" x2="148.5" y2="391" stroke="#7A7A70" stroke-width="1" stroke-dasharray="2.5 2.8"/>
<line x1="162.4" y1="293.6" x2="162.4" y2="391" stroke="#7A7A70" stroke-width="1" stroke-dasharray="2.5 2.8"/>
<line x1="176.4" y1="293.6" x2="176.4" y2="391" stroke="#7A7A70" stroke-width="1" stroke-dasharray="2.5 2.8"/>
<line x1="190.6" y1="293.6" x2="190.6" y2="391" stroke="#7A7A70" stroke-width="1" stroke-dasharray="2.5 2.8"/>
<line x1="205.0" y1="293.6" x2="205.0" y2="391" stroke="#7A7A70" stroke-width="1" stroke-dasharray="2.5 2.8"/>
<line x1="219.2" y1="293.6" x2="219.2" y2="391" stroke="#7A7A70" stroke-width="1" stroke-dasharray="2.5 2.8"/>
<line x1="233.5" y1="293.6" x2="233.5" y2="391" stroke="#7A7A70" stroke-width="1" stroke-dasharray="2.5 2.8"/>
<line x1="247.4" y1="293.6" x2="247.4" y2="391" stroke="#7A7A70" stroke-width="1" stroke-dasharray="2.5 2.8"/>
<line x1="261.4" y1="293.6" x2="261.4" y2="391" stroke="#7A7A70" stroke-width="1" stroke-dasharray="2.5 2.8"/>
<line x1="275.6" y1="293.6" x2="275.6" y2="391" stroke="#7A7A70" stroke-width="1" stroke-dasharray="2.5 2.8"/>
<line x1="290.3" y1="293.6" x2="290.3" y2="391" stroke="#7A7A70" stroke-width="1" stroke-dasharray="2.5 2.8"/>
<line x1="304.8" y1="293.6" x2="304.8" y2="391" stroke="#7A7A70" stroke-width="1" stroke-dasharray="2.5 2.8"/>
<line x1="319.1" y1="293.6" x2="319.1" y2="391" stroke="#7A7A70" stroke-width="1" stroke-dasharray="2.5 2.8"/>
<line x1="333.5" y1="293.6" x2="333.5" y2="391" stroke="#7A7A70" stroke-width="1" stroke-dasharray="2.5 2.8"/>
<line x1="347.4" y1="293.6" x2="347.4" y2="391" stroke="#7A7A70" stroke-width="1" stroke-dasharray="2.5 2.8"/>
<line x1="361.5" y1="293.6" x2="361.5" y2="391" stroke="#7A7A70" stroke-width="1" stroke-dasharray="2.5 2.8"/>
<line x1="375.55" y1="293.6" x2="375.55" y2="391" stroke="#7A7A70" stroke-width="1" stroke-dasharray="2.5 2.8"/>
<line x1="390.1" y1="293.6" x2="390.1" y2="391" stroke="#7A7A70" stroke-width="1" stroke-dasharray="2.5 2.8"/>
<line x1="404.2" y1="293.6" x2="404.2" y2="391" stroke="#7A7A70" stroke-width="1" stroke-dasharray="2.5 2.8"/>
<line x1="418.5" y1="293.6" x2="418.5" y2="391" stroke="#7A7A70" stroke-width="1" stroke-dasharray="2.5 2.8"/>
<line x1="432.7" y1="293.6" x2="432.7" y2="391" stroke="#7A7A70" stroke-width="1" stroke-dasharray="2.5 2.8"/>
<line x1="446.7" y1="293.6" x2="446.7" y2="391" stroke="#7A7A70" stroke-width="1" stroke-dasharray="2.5 2.8"/>
<line x1="461.5" y1="293.6" x2="461.5" y2="391" stroke="#7A7A70" stroke-width="1" stroke-dasharray="2.5 2.8"/>
<line x1="475.9" y1="293.6" x2="475.9" y2="391" stroke="#7A7A70" stroke-width="1" stroke-dasharray="2.5 2.8"/>
<line x1="490.1" y1="293.6" x2="490.1" y2="391" stroke="#7A7A70" stroke-width="1" stroke-dasharray="2.5 2.8"/>
<line x1="504.5" y1="293.6" x2="504.5" y2="391" stroke="#7A7A70" stroke-width="1" stroke-dasharray="2.5 2.8"/>
<line x1="518.6" y1="293.6" x2="518.6" y2="391" stroke="#7A7A70" stroke-width="1" stroke-dasharray="2.5 2.8"/>
<line x1="532.5" y1="293.6" x2="532.5" y2="391" stroke="#7A7A70" stroke-width="1" stroke-dasharray="2.5 2.8"/>
<line x1="546.5" y1="293.6" x2="546.5" y2="391" stroke="#7A7A70" stroke-width="1" stroke-dasharray="2.5 2.8"/>
<line x1="560.9" y1="293.6" x2="560.9" y2="391" stroke="#7A7A70" stroke-width="1" stroke-dasharray="2.5 2.8"/>
<line x1="575.1" y1="293.6" x2="575.1" y2="391" stroke="#7A7A70" stroke-width="1" stroke-dasharray="2.5 2.8"/>
<line x1="589.3" y1="293.6" x2="589.3" y2="391" stroke="#7A7A70" stroke-width="1" stroke-dasharray="2.5 2.8"/>
<line x1="603.6" y1="293.6" x2="603.6" y2="391" stroke="#7A7A70" stroke-width="1" stroke-dasharray="2.5 2.8"/>
<line x1="617.5" y1="293.6" x2="617.5" y2="391" stroke="#7A7A70" stroke-width="1" stroke-dasharray="2.5 2.8"/>
<line x1="632.3" y1="293.6" x2="632.3" y2="391" stroke="#7A7A70" stroke-width="1" stroke-dasharray="2.5 2.8"/>
<line x1="646.7" y1="293.6" x2="646.7" y2="391" stroke="#7A7A70" stroke-width="1" stroke-dasharray="2.5 2.8"/>
<line x1="661.0" y1="293.6" x2="661.0" y2="391" stroke="#7A7A70" stroke-width="1" stroke-dasharray="2.5 2.8"/>
<line x1="675.4" y1="293.6" x2="675.4" y2="391" stroke="#7A7A70" stroke-width="1" stroke-dasharray="2.5 2.8"/>
<line x1="689.6" y1="293.6" x2="689.6" y2="391" stroke="#7A7A70" stroke-width="1" stroke-dasharray="2.5 2.8"/>
<line x1="35" y1="341.5" x2="703" y2="341.5" stroke="#7A7A70" stroke-width="1" stroke-dasharray="2.5 2.8"/>
<rect x="35" y="294" width="668" height="1" fill="#F4F4EC" fill-opacity="0.8"/>
<rect x="35" y="294" width="1" height="97" fill="#F4F4EC" fill-opacity="0.8"/>
<rect x="35" y="390" width="668" height="1" fill="#F4F4EC" fill-opacity="0.7"/>
<polyline points="33.50,351.62 48.50,377.17 62.60,361.64 76.50,353.62 90.60,381.18 104.70,347.61 119.90,369.15 134.20,370.16 148.50,362.89 162.40,353.12 176.40,367.65 190.60,353.62 205.00,369.15 219.20,356.63 233.50,345.11 247.40,347.61 261.40,333.58 275.60,336.59 290.30,386.69 304.80,385.69 319.10,362.14 333.50,379.18 347.40,313.04 361.50,298.01 375.55,330.08 390.10,327.57 404.20,327.57 418.50,307.03 432.70,327.57 446.70,321.06 461.50,357.63 475.90,339.60 490.10,339.60 504.50,339.60 518.60,355.63 532.50,367.65 546.50,369.15 560.90,387.19 575.10,392.20 589.30,392.20 603.60,335.59 617.50,294.00 632.30,322.06 646.70,362.64 661.00,333.08 675.40,346.61 689.60,349.12 703.50,342.60" fill="none" stroke="#C8EEC8" stroke-opacity="0.55" stroke-width="3" stroke-linejoin="miter"/>
<polyline points="33.50,351.62 48.50,377.17 62.60,361.64 76.50,353.62 90.60,381.18 104.70,347.61 119.90,369.15 134.20,370.16 148.50,362.89 162.40,353.12 176.40,367.65 190.60,353.62 205.00,369.15 219.20,356.63 233.50,345.11 247.40,347.61 261.40,333.58 275.60,336.59 290.30,386.69 304.80,385.69 319.10,362.14 333.50,379.18 347.40,313.04 361.50,298.01 375.55,330.08 390.10,327.57 404.20,327.57 418.50,307.03 432.70,327.57 446.70,321.06 461.50,357.63 475.90,339.60 490.10,339.60 504.50,339.60 518.60,355.63 532.50,367.65 546.50,369.15 560.90,387.19 575.10,392.20 589.30,392.20 603.60,335.59 617.50,294.00 632.30,322.06 646.70,362.64 661.00,333.08 675.40,346.61 689.60,349.12 703.50,342.60" fill="none" stroke="#266228" stroke-width="1.05" stroke-linejoin="miter"/>
<rect x="33" y="292" width="672" height="1" fill="#F2F2E8" fill-opacity="0.7"/>
<rect x="33" y="393" width="671" height="4" fill="#F2F2E8" fill-opacity="0.55"/>
<rect x="33" y="293" width="671" height="1" fill="#2E2E2E"/>
<rect x="33" y="293" width="2" height="100" fill="#000"/>
<rect x="703" y="293" width="1" height="103" fill="#000"/>
<rect x="33" y="391" width="671" height="1" fill="#000"/>
<rect x="33" y="392" width="671" height="1" fill="#2A2A2A"/>
<line x1="48.5" y1="393" x2="48.5" y2="396" stroke="#4A4A44" stroke-width="1"/>
<line x1="62.6" y1="393" x2="62.6" y2="396" stroke="#4A4A44" stroke-width="1"/>
<line x1="76.5" y1="393" x2="76.5" y2="396" stroke="#4A4A44" stroke-width="1"/>
<line x1="90.6" y1="393" x2="90.6" y2="396" stroke="#4A4A44" stroke-width="1"/>
<line x1="104.7" y1="393" x2="104.7" y2="396" stroke="#4A4A44" stroke-width="1"/>
<line x1="119.9" y1="393" x2="119.9" y2="396" stroke="#4A4A44" stroke-width="1"/>
<line x1="134.2" y1="393" x2="134.2" y2="396" stroke="#4A4A44" stroke-width="1"/>
<line x1="148.5" y1="393" x2="148.5" y2="396" stroke="#4A4A44" stroke-width="1"/>
<line x1="162.4" y1="393" x2="162.4" y2="396" stroke="#4A4A44" stroke-width="1"/>
<line x1="176.4" y1="393" x2="176.4" y2="396" stroke="#4A4A44" stroke-width="1"/>
<line x1="190.6" y1="393" x2="190.6" y2="396" stroke="#4A4A44" stroke-width="1"/>
<line x1="205.0" y1="393" x2="205.0" y2="396" stroke="#4A4A44" stroke-width="1"/>
<line x1="219.2" y1="393" x2="219.2" y2="396" stroke="#4A4A44" stroke-width="1"/>
<line x1="233.5" y1="393" x2="233.5" y2="396" stroke="#4A4A44" stroke-width="1"/>
<line x1="247.4" y1="393" x2="247.4" y2="396" stroke="#4A4A44" stroke-width="1"/>
<line x1="261.4" y1="393" x2="261.4" y2="396" stroke="#4A4A44" stroke-width="1"/>
<line x1="275.6" y1="393" x2="275.6" y2="396" stroke="#4A4A44" stroke-width="1"/>
<line x1="290.3" y1="393" x2="290.3" y2="396" stroke="#4A4A44" stroke-width="1"/>
<line x1="304.8" y1="393" x2="304.8" y2="396" stroke="#4A4A44" stroke-width="1"/>
<line x1="319.1" y1="393" x2="319.1" y2="396" stroke="#4A4A44" stroke-width="1"/>
<line x1="333.5" y1="393" x2="333.5" y2="396" stroke="#4A4A44" stroke-width="1"/>
<line x1="347.4" y1="393" x2="347.4" y2="396" stroke="#4A4A44" stroke-width="1"/>
<line x1="361.5" y1="393" x2="361.5" y2="396" stroke="#4A4A44" stroke-width="1"/>
<line x1="375.55" y1="393" x2="375.55" y2="396" stroke="#4A4A44" stroke-width="1"/>
<line x1="390.1" y1="393" x2="390.1" y2="396" stroke="#4A4A44" stroke-width="1"/>
<line x1="404.2" y1="393" x2="404.2" y2="396" stroke="#4A4A44" stroke-width="1"/>
<line x1="418.5" y1="393" x2="418.5" y2="396" stroke="#4A4A44" stroke-width="1"/>
<line x1="432.7" y1="393" x2="432.7" y2="396" stroke="#4A4A44" stroke-width="1"/>
<line x1="446.7" y1="393" x2="446.7" y2="396" stroke="#4A4A44" stroke-width="1"/>
<line x1="461.5" y1="393" x2="461.5" y2="396" stroke="#4A4A44" stroke-width="1"/>
<line x1="475.9" y1="393" x2="475.9" y2="396" stroke="#4A4A44" stroke-width="1"/>
<line x1="490.1" y1="393" x2="490.1" y2="396" stroke="#4A4A44" stroke-width="1"/>
<line x1="504.5" y1="393" x2="504.5" y2="396" stroke="#4A4A44" stroke-width="1"/>
<line x1="518.6" y1="393" x2="518.6" y2="396" stroke="#4A4A44" stroke-width="1"/>
<line x1="532.5" y1="393" x2="532.5" y2="396" stroke="#4A4A44" stroke-width="1"/>
<line x1="546.5" y1="393" x2="546.5" y2="396" stroke="#4A4A44" stroke-width="1"/>
<line x1="560.9" y1="393" x2="560.9" y2="396" stroke="#4A4A44" stroke-width="1"/>
<line x1="575.1" y1="393" x2="575.1" y2="396" stroke="#4A4A44" stroke-width="1"/>
<line x1="589.3" y1="393" x2="589.3" y2="396" stroke="#4A4A44" stroke-width="1"/>
<line x1="603.6" y1="393" x2="603.6" y2="396" stroke="#4A4A44" stroke-width="1"/>
<line x1="617.5" y1="393" x2="617.5" y2="396" stroke="#4A4A44" stroke-width="1"/>
<line x1="632.3" y1="393" x2="632.3" y2="396" stroke="#4A4A44" stroke-width="1"/>
<line x1="646.7" y1="393" x2="646.7" y2="396" stroke="#4A4A44" stroke-width="1"/>
<line x1="661.0" y1="393" x2="661.0" y2="396" stroke="#4A4A44" stroke-width="1"/>
<line x1="675.4" y1="393" x2="675.4" y2="396" stroke="#4A4A44" stroke-width="1"/>
<line x1="689.6" y1="393" x2="689.6" y2="396" stroke="#4A4A44" stroke-width="1"/>
<line x1="703.5" y1="393" x2="703.5" y2="396" stroke="#4A4A44" stroke-width="1"/>
<line x1="36.5" y1="393.5" x2="36.5" y2="394.5" stroke="#8A8A80" stroke-width="1"/>
<line x1="39.5" y1="393.5" x2="39.5" y2="394.5" stroke="#8A8A80" stroke-width="1"/>
<line x1="42.5" y1="393.5" x2="42.5" y2="394.5" stroke="#8A8A80" stroke-width="1"/>
<line x1="45.5" y1="393.5" x2="45.5" y2="394.5" stroke="#8A8A80" stroke-width="1"/>
<line x1="51.5" y1="393.5" x2="51.5" y2="394.5" stroke="#8A8A80" stroke-width="1"/>
<line x1="54.5" y1="393.5" x2="54.5" y2="394.5" stroke="#8A8A80" stroke-width="1"/>
<line x1="56.5" y1="393.5" x2="56.5" y2="394.5" stroke="#8A8A80" stroke-width="1"/>
<line x1="59.5" y1="393.5" x2="59.5" y2="394.5" stroke="#8A8A80" stroke-width="1"/>
<line x1="65.5" y1="393.5" x2="65.5" y2="394.5" stroke="#8A8A80" stroke-width="1"/>
<line x1="68.5" y1="393.5" x2="68.5" y2="394.5" stroke="#8A8A80" stroke-width="1"/>
<line x1="70.5" y1="393.5" x2="70.5" y2="394.5" stroke="#8A8A80" stroke-width="1"/>
<line x1="73.5" y1="393.5" x2="73.5" y2="394.5" stroke="#8A8A80" stroke-width="1"/>
<line x1="79.5" y1="393.5" x2="79.5" y2="394.5" stroke="#8A8A80" stroke-width="1"/>
<line x1="82.5" y1="393.5" x2="82.5" y2="394.5" stroke="#8A8A80" stroke-width="1"/>
<line x1="84.5" y1="393.5" x2="84.5" y2="394.5" stroke="#8A8A80" stroke-width="1"/>
<line x1="87.5" y1="393.5" x2="87.5" y2="394.5" stroke="#8A8A80" stroke-width="1"/>
<line x1="93.5" y1="393.5" x2="93.5" y2="394.5" stroke="#8A8A80" stroke-width="1"/>
<line x1="96.5" y1="393.5" x2="96.5" y2="394.5" stroke="#8A8A80" stroke-width="1"/>
<line x1="99.5" y1="393.5" x2="99.5" y2="394.5" stroke="#8A8A80" stroke-width="1"/>
<line x1="101.5" y1="393.5" x2="101.5" y2="394.5" stroke="#8A8A80" stroke-width="1"/>
<line x1="107.5" y1="393.5" x2="107.5" y2="394.5" stroke="#8A8A80" stroke-width="1"/>
<line x1="110.5" y1="393.5" x2="110.5" y2="394.5" stroke="#8A8A80" stroke-width="1"/>
<line x1="113.5" y1="393.5" x2="113.5" y2="394.5" stroke="#8A8A80" stroke-width="1"/>
<line x1="116.5" y1="393.5" x2="116.5" y2="394.5" stroke="#8A8A80" stroke-width="1"/>
<line x1="122.5" y1="393.5" x2="122.5" y2="394.5" stroke="#8A8A80" stroke-width="1"/>
<line x1="125.5" y1="393.5" x2="125.5" y2="394.5" stroke="#8A8A80" stroke-width="1"/>
<line x1="128.5" y1="393.5" x2="128.5" y2="394.5" stroke="#8A8A80" stroke-width="1"/>
<line x1="131.5" y1="393.5" x2="131.5" y2="394.5" stroke="#8A8A80" stroke-width="1"/>
<line x1="137.5" y1="393.5" x2="137.5" y2="394.5" stroke="#8A8A80" stroke-width="1"/>
<line x1="139.5" y1="393.5" x2="139.5" y2="394.5" stroke="#8A8A80" stroke-width="1"/>
<line x1="142.5" y1="393.5" x2="142.5" y2="394.5" stroke="#8A8A80" stroke-width="1"/>
<line x1="145.5" y1="393.5" x2="145.5" y2="394.5" stroke="#8A8A80" stroke-width="1"/>
<line x1="151.5" y1="393.5" x2="151.5" y2="394.5" stroke="#8A8A80" stroke-width="1"/>
<line x1="154.5" y1="393.5" x2="154.5" y2="394.5" stroke="#8A8A80" stroke-width="1"/>
<line x1="156.5" y1="393.5" x2="156.5" y2="394.5" stroke="#8A8A80" stroke-width="1"/>
<line x1="159.5" y1="393.5" x2="159.5" y2="394.5" stroke="#8A8A80" stroke-width="1"/>
<line x1="165.5" y1="393.5" x2="165.5" y2="394.5" stroke="#8A8A80" stroke-width="1"/>
<line x1="168.5" y1="393.5" x2="168.5" y2="394.5" stroke="#8A8A80" stroke-width="1"/>
<line x1="170.5" y1="393.5" x2="170.5" y2="394.5" stroke="#8A8A80" stroke-width="1"/>
<line x1="173.5" y1="393.5" x2="173.5" y2="394.5" stroke="#8A8A80" stroke-width="1"/>
<line x1="179.5" y1="393.5" x2="179.5" y2="394.5" stroke="#8A8A80" stroke-width="1"/>
<line x1="182.5" y1="393.5" x2="182.5" y2="394.5" stroke="#8A8A80" stroke-width="1"/>
<line x1="184.5" y1="393.5" x2="184.5" y2="394.5" stroke="#8A8A80" stroke-width="1"/>
<line x1="187.5" y1="393.5" x2="187.5" y2="394.5" stroke="#8A8A80" stroke-width="1"/>
<line x1="193.5" y1="393.5" x2="193.5" y2="394.5" stroke="#8A8A80" stroke-width="1"/>
<line x1="196.5" y1="393.5" x2="196.5" y2="394.5" stroke="#8A8A80" stroke-width="1"/>
<line x1="199.5" y1="393.5" x2="199.5" y2="394.5" stroke="#8A8A80" stroke-width="1"/>
<line x1="202.5" y1="393.5" x2="202.5" y2="394.5" stroke="#8A8A80" stroke-width="1"/>
<line x1="207.5" y1="393.5" x2="207.5" y2="394.5" stroke="#8A8A80" stroke-width="1"/>
<line x1="210.5" y1="393.5" x2="210.5" y2="394.5" stroke="#8A8A80" stroke-width="1"/>
<line x1="213.5" y1="393.5" x2="213.5" y2="394.5" stroke="#8A8A80" stroke-width="1"/>
<line x1="216.5" y1="393.5" x2="216.5" y2="394.5" stroke="#8A8A80" stroke-width="1"/>
<line x1="222.5" y1="393.5" x2="222.5" y2="394.5" stroke="#8A8A80" stroke-width="1"/>
<line x1="224.5" y1="393.5" x2="224.5" y2="394.5" stroke="#8A8A80" stroke-width="1"/>
<line x1="227.5" y1="393.5" x2="227.5" y2="394.5" stroke="#8A8A80" stroke-width="1"/>
<line x1="230.5" y1="393.5" x2="230.5" y2="394.5" stroke="#8A8A80" stroke-width="1"/>
<line x1="236.5" y1="393.5" x2="236.5" y2="394.5" stroke="#8A8A80" stroke-width="1"/>
<line x1="239.5" y1="393.5" x2="239.5" y2="394.5" stroke="#8A8A80" stroke-width="1"/>
<line x1="241.5" y1="393.5" x2="241.5" y2="394.5" stroke="#8A8A80" stroke-width="1"/>
<line x1="244.5" y1="393.5" x2="244.5" y2="394.5" stroke="#8A8A80" stroke-width="1"/>
<line x1="250.5" y1="393.5" x2="250.5" y2="394.5" stroke="#8A8A80" stroke-width="1"/>
<line x1="252.5" y1="393.5" x2="252.5" y2="394.5" stroke="#8A8A80" stroke-width="1"/>
<line x1="255.5" y1="393.5" x2="255.5" y2="394.5" stroke="#8A8A80" stroke-width="1"/>
<line x1="258.5" y1="393.5" x2="258.5" y2="394.5" stroke="#8A8A80" stroke-width="1"/>
<line x1="264.5" y1="393.5" x2="264.5" y2="394.5" stroke="#8A8A80" stroke-width="1"/>
<line x1="267.5" y1="393.5" x2="267.5" y2="394.5" stroke="#8A8A80" stroke-width="1"/>
<line x1="269.5" y1="393.5" x2="269.5" y2="394.5" stroke="#8A8A80" stroke-width="1"/>
<line x1="272.5" y1="393.5" x2="272.5" y2="394.5" stroke="#8A8A80" stroke-width="1"/>
<line x1="278.5" y1="393.5" x2="278.5" y2="394.5" stroke="#8A8A80" stroke-width="1"/>
<line x1="281.5" y1="393.5" x2="281.5" y2="394.5" stroke="#8A8A80" stroke-width="1"/>
<line x1="284.5" y1="393.5" x2="284.5" y2="394.5" stroke="#8A8A80" stroke-width="1"/>
<line x1="287.5" y1="393.5" x2="287.5" y2="394.5" stroke="#8A8A80" stroke-width="1"/>
<line x1="293.5" y1="393.5" x2="293.5" y2="394.5" stroke="#8A8A80" stroke-width="1"/>
<line x1="296.5" y1="393.5" x2="296.5" y2="394.5" stroke="#8A8A80" stroke-width="1"/>
<line x1="298.5" y1="393.5" x2="298.5" y2="394.5" stroke="#8A8A80" stroke-width="1"/>
<line x1="301.5" y1="393.5" x2="301.5" y2="394.5" stroke="#8A8A80" stroke-width="1"/>
<line x1="307.5" y1="393.5" x2="307.5" y2="394.5" stroke="#8A8A80" stroke-width="1"/>
<line x1="310.5" y1="393.5" x2="310.5" y2="394.5" stroke="#8A8A80" stroke-width="1"/>
<line x1="313.5" y1="393.5" x2="313.5" y2="394.5" stroke="#8A8A80" stroke-width="1"/>
<line x1="316.5" y1="393.5" x2="316.5" y2="394.5" stroke="#8A8A80" stroke-width="1"/>
<line x1="321.5" y1="393.5" x2="321.5" y2="394.5" stroke="#8A8A80" stroke-width="1"/>
<line x1="324.5" y1="393.5" x2="324.5" y2="394.5" stroke="#8A8A80" stroke-width="1"/>
<line x1="327.5" y1="393.5" x2="327.5" y2="394.5" stroke="#8A8A80" stroke-width="1"/>
<line x1="330.5" y1="393.5" x2="330.5" y2="394.5" stroke="#8A8A80" stroke-width="1"/>
<line x1="336.5" y1="393.5" x2="336.5" y2="394.5" stroke="#8A8A80" stroke-width="1"/>
<line x1="339.5" y1="393.5" x2="339.5" y2="394.5" stroke="#8A8A80" stroke-width="1"/>
<line x1="341.5" y1="393.5" x2="341.5" y2="394.5" stroke="#8A8A80" stroke-width="1"/>
<line x1="344.5" y1="393.5" x2="344.5" y2="394.5" stroke="#8A8A80" stroke-width="1"/>
<line x1="350.5" y1="393.5" x2="350.5" y2="394.5" stroke="#8A8A80" stroke-width="1"/>
<line x1="353.5" y1="393.5" x2="353.5" y2="394.5" stroke="#8A8A80" stroke-width="1"/>
<line x1="355.5" y1="393.5" x2="355.5" y2="394.5" stroke="#8A8A80" stroke-width="1"/>
<line x1="358.5" y1="393.5" x2="358.5" y2="394.5" stroke="#8A8A80" stroke-width="1"/>
<line x1="364.5" y1="393.5" x2="364.5" y2="394.5" stroke="#8A8A80" stroke-width="1"/>
<line x1="367.5" y1="393.5" x2="367.5" y2="394.5" stroke="#8A8A80" stroke-width="1"/>
<line x1="369.5" y1="393.5" x2="369.5" y2="394.5" stroke="#8A8A80" stroke-width="1"/>
<line x1="372.5" y1="393.5" x2="372.5" y2="394.5" stroke="#8A8A80" stroke-width="1"/>
<line x1="378.5" y1="393.5" x2="378.5" y2="394.5" stroke="#8A8A80" stroke-width="1"/>
<line x1="381.5" y1="393.5" x2="381.5" y2="394.5" stroke="#8A8A80" stroke-width="1"/>
<line x1="384.5" y1="393.5" x2="384.5" y2="394.5" stroke="#8A8A80" stroke-width="1"/>
<line x1="387.5" y1="393.5" x2="387.5" y2="394.5" stroke="#8A8A80" stroke-width="1"/>
<line x1="392.5" y1="393.5" x2="392.5" y2="394.5" stroke="#8A8A80" stroke-width="1"/>
<line x1="395.5" y1="393.5" x2="395.5" y2="394.5" stroke="#8A8A80" stroke-width="1"/>
<line x1="398.5" y1="393.5" x2="398.5" y2="394.5" stroke="#8A8A80" stroke-width="1"/>
<line x1="401.5" y1="393.5" x2="401.5" y2="394.5" stroke="#8A8A80" stroke-width="1"/>
<line x1="407.5" y1="393.5" x2="407.5" y2="394.5" stroke="#8A8A80" stroke-width="1"/>
<line x1="409.5" y1="393.5" x2="409.5" y2="394.5" stroke="#8A8A80" stroke-width="1"/>
<line x1="412.5" y1="393.5" x2="412.5" y2="394.5" stroke="#8A8A80" stroke-width="1"/>
<line x1="415.5" y1="393.5" x2="415.5" y2="394.5" stroke="#8A8A80" stroke-width="1"/>
<line x1="421.5" y1="393.5" x2="421.5" y2="394.5" stroke="#8A8A80" stroke-width="1"/>
<line x1="424.5" y1="393.5" x2="424.5" y2="394.5" stroke="#8A8A80" stroke-width="1"/>
<line x1="427.5" y1="393.5" x2="427.5" y2="394.5" stroke="#8A8A80" stroke-width="1"/>
<line x1="429.5" y1="393.5" x2="429.5" y2="394.5" stroke="#8A8A80" stroke-width="1"/>
<line x1="435.5" y1="393.5" x2="435.5" y2="394.5" stroke="#8A8A80" stroke-width="1"/>
<line x1="438.5" y1="393.5" x2="438.5" y2="394.5" stroke="#8A8A80" stroke-width="1"/>
<line x1="441.5" y1="393.5" x2="441.5" y2="394.5" stroke="#8A8A80" stroke-width="1"/>
<line x1="443.5" y1="393.5" x2="443.5" y2="394.5" stroke="#8A8A80" stroke-width="1"/>
<line x1="449.5" y1="393.5" x2="449.5" y2="394.5" stroke="#8A8A80" stroke-width="1"/>
<line x1="452.5" y1="393.5" x2="452.5" y2="394.5" stroke="#8A8A80" stroke-width="1"/>
<line x1="455.5" y1="393.5" x2="455.5" y2="394.5" stroke="#8A8A80" stroke-width="1"/>
<line x1="458.5" y1="393.5" x2="458.5" y2="394.5" stroke="#8A8A80" stroke-width="1"/>
<line x1="464.5" y1="393.5" x2="464.5" y2="394.5" stroke="#8A8A80" stroke-width="1"/>
<line x1="467.5" y1="393.5" x2="467.5" y2="394.5" stroke="#8A8A80" stroke-width="1"/>
<line x1="470.5" y1="393.5" x2="470.5" y2="394.5" stroke="#8A8A80" stroke-width="1"/>
<line x1="473.5" y1="393.5" x2="473.5" y2="394.5" stroke="#8A8A80" stroke-width="1"/>
<line x1="478.5" y1="393.5" x2="478.5" y2="394.5" stroke="#8A8A80" stroke-width="1"/>
<line x1="481.5" y1="393.5" x2="481.5" y2="394.5" stroke="#8A8A80" stroke-width="1"/>
<line x1="484.5" y1="393.5" x2="484.5" y2="394.5" stroke="#8A8A80" stroke-width="1"/>
<line x1="487.5" y1="393.5" x2="487.5" y2="394.5" stroke="#8A8A80" stroke-width="1"/>
<line x1="492.5" y1="393.5" x2="492.5" y2="394.5" stroke="#8A8A80" stroke-width="1"/>
<line x1="495.5" y1="393.5" x2="495.5" y2="394.5" stroke="#8A8A80" stroke-width="1"/>
<line x1="498.5" y1="393.5" x2="498.5" y2="394.5" stroke="#8A8A80" stroke-width="1"/>
<line x1="501.5" y1="393.5" x2="501.5" y2="394.5" stroke="#8A8A80" stroke-width="1"/>
<line x1="507.5" y1="393.5" x2="507.5" y2="394.5" stroke="#8A8A80" stroke-width="1"/>
<line x1="510.5" y1="393.5" x2="510.5" y2="394.5" stroke="#8A8A80" stroke-width="1"/>
<line x1="512.5" y1="393.5" x2="512.5" y2="394.5" stroke="#8A8A80" stroke-width="1"/>
<line x1="515.5" y1="393.5" x2="515.5" y2="394.5" stroke="#8A8A80" stroke-width="1"/>
<line x1="521.5" y1="393.5" x2="521.5" y2="394.5" stroke="#8A8A80" stroke-width="1"/>
<line x1="524.5" y1="393.5" x2="524.5" y2="394.5" stroke="#8A8A80" stroke-width="1"/>
<line x1="526.5" y1="393.5" x2="526.5" y2="394.5" stroke="#8A8A80" stroke-width="1"/>
<line x1="529.5" y1="393.5" x2="529.5" y2="394.5" stroke="#8A8A80" stroke-width="1"/>
<line x1="535.5" y1="393.5" x2="535.5" y2="394.5" stroke="#8A8A80" stroke-width="1"/>
<line x1="538.5" y1="393.5" x2="538.5" y2="394.5" stroke="#8A8A80" stroke-width="1"/>
<line x1="540.5" y1="393.5" x2="540.5" y2="394.5" stroke="#8A8A80" stroke-width="1"/>
<line x1="543.5" y1="393.5" x2="543.5" y2="394.5" stroke="#8A8A80" stroke-width="1"/>
<line x1="549.5" y1="393.5" x2="549.5" y2="394.5" stroke="#8A8A80" stroke-width="1"/>
<line x1="552.5" y1="393.5" x2="552.5" y2="394.5" stroke="#8A8A80" stroke-width="1"/>
<line x1="555.5" y1="393.5" x2="555.5" y2="394.5" stroke="#8A8A80" stroke-width="1"/>
<line x1="558.5" y1="393.5" x2="558.5" y2="394.5" stroke="#8A8A80" stroke-width="1"/>
<line x1="563.5" y1="393.5" x2="563.5" y2="394.5" stroke="#8A8A80" stroke-width="1"/>
<line x1="566.5" y1="393.5" x2="566.5" y2="394.5" stroke="#8A8A80" stroke-width="1"/>
<line x1="569.5" y1="393.5" x2="569.5" y2="394.5" stroke="#8A8A80" stroke-width="1"/>
<line x1="572.5" y1="393.5" x2="572.5" y2="394.5" stroke="#8A8A80" stroke-width="1"/>
<line x1="577.5" y1="393.5" x2="577.5" y2="394.5" stroke="#8A8A80" stroke-width="1"/>
<line x1="580.5" y1="393.5" x2="580.5" y2="394.5" stroke="#8A8A80" stroke-width="1"/>
<line x1="583.5" y1="393.5" x2="583.5" y2="394.5" stroke="#8A8A80" stroke-width="1"/>
<line x1="586.5" y1="393.5" x2="586.5" y2="394.5" stroke="#8A8A80" stroke-width="1"/>
<line x1="592.5" y1="393.5" x2="592.5" y2="394.5" stroke="#8A8A80" stroke-width="1"/>
<line x1="595.5" y1="393.5" x2="595.5" y2="394.5" stroke="#8A8A80" stroke-width="1"/>
<line x1="597.5" y1="393.5" x2="597.5" y2="394.5" stroke="#8A8A80" stroke-width="1"/>
<line x1="600.5" y1="393.5" x2="600.5" y2="394.5" stroke="#8A8A80" stroke-width="1"/>
<line x1="606.5" y1="393.5" x2="606.5" y2="394.5" stroke="#8A8A80" stroke-width="1"/>
<line x1="609.5" y1="393.5" x2="609.5" y2="394.5" stroke="#8A8A80" stroke-width="1"/>
<line x1="611.5" y1="393.5" x2="611.5" y2="394.5" stroke="#8A8A80" stroke-width="1"/>
<line x1="614.5" y1="393.5" x2="614.5" y2="394.5" stroke="#8A8A80" stroke-width="1"/>
<line x1="620.5" y1="393.5" x2="620.5" y2="394.5" stroke="#8A8A80" stroke-width="1"/>
<line x1="623.5" y1="393.5" x2="623.5" y2="394.5" stroke="#8A8A80" stroke-width="1"/>
<line x1="626.5" y1="393.5" x2="626.5" y2="394.5" stroke="#8A8A80" stroke-width="1"/>
<line x1="629.5" y1="393.5" x2="629.5" y2="394.5" stroke="#8A8A80" stroke-width="1"/>
<line x1="635.5" y1="393.5" x2="635.5" y2="394.5" stroke="#8A8A80" stroke-width="1"/>
<line x1="638.5" y1="393.5" x2="638.5" y2="394.5" stroke="#8A8A80" stroke-width="1"/>
<line x1="640.5" y1="393.5" x2="640.5" y2="394.5" stroke="#8A8A80" stroke-width="1"/>
<line x1="643.5" y1="393.5" x2="643.5" y2="394.5" stroke="#8A8A80" stroke-width="1"/>
<line x1="649.5" y1="393.5" x2="649.5" y2="394.5" stroke="#8A8A80" stroke-width="1"/>
<line x1="652.5" y1="393.5" x2="652.5" y2="394.5" stroke="#8A8A80" stroke-width="1"/>
<line x1="655.5" y1="393.5" x2="655.5" y2="394.5" stroke="#8A8A80" stroke-width="1"/>
<line x1="658.5" y1="393.5" x2="658.5" y2="394.5" stroke="#8A8A80" stroke-width="1"/>
<line x1="663.5" y1="393.5" x2="663.5" y2="394.5" stroke="#8A8A80" stroke-width="1"/>
<line x1="666.5" y1="393.5" x2="666.5" y2="394.5" stroke="#8A8A80" stroke-width="1"/>
<line x1="669.5" y1="393.5" x2="669.5" y2="394.5" stroke="#8A8A80" stroke-width="1"/>
<line x1="672.5" y1="393.5" x2="672.5" y2="394.5" stroke="#8A8A80" stroke-width="1"/>
<line x1="678.5" y1="393.5" x2="678.5" y2="394.5" stroke="#8A8A80" stroke-width="1"/>
<line x1="681.5" y1="393.5" x2="681.5" y2="394.5" stroke="#8A8A80" stroke-width="1"/>
<line x1="683.5" y1="393.5" x2="683.5" y2="394.5" stroke="#8A8A80" stroke-width="1"/>
<line x1="686.5" y1="393.5" x2="686.5" y2="394.5" stroke="#8A8A80" stroke-width="1"/>
<line x1="692.5" y1="393.5" x2="692.5" y2="394.5" stroke="#8A8A80" stroke-width="1"/>
<line x1="695.5" y1="393.5" x2="695.5" y2="394.5" stroke="#8A8A80" stroke-width="1"/>
<line x1="697.5" y1="393.5" x2="697.5" y2="394.5" stroke="#8A8A80" stroke-width="1"/>
<line x1="700.5" y1="393.5" x2="700.5" y2="394.5" stroke="#8A8A80" stroke-width="1"/>
<text x="22.70" y="344.10" font-family="'Liberation Sans', sans-serif" font-size="8.8" fill="#111" stroke="#111" stroke-width="0.4">1</text>
<line x1="30" y1="341.5" x2="33" y2="341.5" stroke="#666" stroke-width="1"/>
<text x="22.70" y="394.20" font-family="'Liberation Sans', sans-serif" font-size="8.8" fill="#111" stroke="#111" stroke-width="0.4">0</text>
<line x1="30" y1="391.5" x2="33" y2="391.5" stroke="#666" stroke-width="1"/>
<line x1="31.5" y1="379.5" x2="33" y2="379.5" stroke="#8A8A80" stroke-width="1"/>
<line x1="31.5" y1="366.5" x2="33" y2="366.5" stroke="#8A8A80" stroke-width="1"/>
<line x1="31.5" y1="354.5" x2="33" y2="354.5" stroke="#8A8A80" stroke-width="1"/>
<text x="343.05" y="286.2" text-anchor="middle" textLength="115.9" lengthAdjust="spacingAndGlyphs" text-rendering="geometricPrecision" font-family="'Liberation Sans', sans-serif" font-size="10.1" fill="#2222A8" stroke="#2222A8" stroke-width="0.3">Windgeschwindigkeit (m/s)</text>
<rect x="35" y="423" width="668" height="95" fill="#E6E6D8"/>
<line x1="48.5" y1="422.6" x2="48.5" y2="518" stroke="#7A7A70" stroke-width="1" stroke-dasharray="2.5 2.8"/>
<line x1="62.6" y1="422.6" x2="62.6" y2="518" stroke="#7A7A70" stroke-width="1" stroke-dasharray="2.5 2.8"/>
<line x1="76.5" y1="422.6" x2="76.5" y2="518" stroke="#7A7A70" stroke-width="1" stroke-dasharray="2.5 2.8"/>
<line x1="90.6" y1="422.6" x2="90.6" y2="518" stroke="#7A7A70" stroke-width="1" stroke-dasharray="2.5 2.8"/>
<line x1="104.7" y1="422.6" x2="104.7" y2="518" stroke="#7A7A70" stroke-width="1" stroke-dasharray="2.5 2.8"/>
<line x1="119.9" y1="422.6" x2="119.9" y2="518" stroke="#7A7A70" stroke-width="1" stroke-dasharray="2.5 2.8"/>
<line x1="134.2" y1="422.6" x2="134.2" y2="518" stroke="#7A7A70" stroke-width="1" stroke-dasharray="2.5 2.8"/>
<line x1="148.5" y1="422.6" x2="148.5" y2="518" stroke="#7A7A70" stroke-width="1" stroke-dasharray="2.5 2.8"/>
<line x1="162.4" y1="422.6" x2="162.4" y2="518" stroke="#7A7A70" stroke-width="1" stroke-dasharray="2.5 2.8"/>
<line x1="176.4" y1="422.6" x2="176.4" y2="518" stroke="#7A7A70" stroke-width="1" stroke-dasharray="2.5 2.8"/>
<line x1="190.6" y1="422.6" x2="190.6" y2="518" stroke="#7A7A70" stroke-width="1" stroke-dasharray="2.5 2.8"/>
<line x1="205.0" y1="422.6" x2="205.0" y2="518" stroke="#7A7A70" stroke-width="1" stroke-dasharray="2.5 2.8"/>
<line x1="219.2" y1="422.6" x2="219.2" y2="518" stroke="#7A7A70" stroke-width="1" stroke-dasharray="2.5 2.8"/>
<line x1="233.5" y1="422.6" x2="233.5" y2="518" stroke="#7A7A70" stroke-width="1" stroke-dasharray="2.5 2.8"/>
<line x1="247.4" y1="422.6" x2="247.4" y2="518" stroke="#7A7A70" stroke-width="1" stroke-dasharray="2.5 2.8"/>
<line x1="261.4" y1="422.6" x2="261.4" y2="518" stroke="#7A7A70" stroke-width="1" stroke-dasharray="2.5 2.8"/>
<line x1="275.6" y1="422.6" x2="275.6" y2="518" stroke="#7A7A70" stroke-width="1" stroke-dasharray="2.5 2.8"/>
<line x1="290.3" y1="422.6" x2="290.3" y2="518" stroke="#7A7A70" stroke-width="1" stroke-dasharray="2.5 2.8"/>
<line x1="304.8" y1="422.6" x2="304.8" y2="518" stroke="#7A7A70" stroke-width="1" stroke-dasharray="2.5 2.8"/>
<line x1="319.1" y1="422.6" x2="319.1" y2="518" stroke="#7A7A70" stroke-width="1" stroke-dasharray="2.5 2.8"/>
<line x1="333.5" y1="422.6" x2="333.5" y2="518" stroke="#7A7A70" stroke-width="1" stroke-dasharray="2.5 2.8"/>
<line x1="347.4" y1="422.6" x2="347.4" y2="518" stroke="#7A7A70" stroke-width="1" stroke-dasharray="2.5 2.8"/>
<line x1="361.5" y1="422.6" x2="361.5" y2="518" stroke="#7A7A70" stroke-width="1" stroke-dasharray="2.5 2.8"/>
<line x1="375.55" y1="422.6" x2="375.55" y2="518" stroke="#7A7A70" stroke-width="1" stroke-dasharray="2.5 2.8"/>
<line x1="390.1" y1="422.6" x2="390.1" y2="518" stroke="#7A7A70" stroke-width="1" stroke-dasharray="2.5 2.8"/>
<line x1="404.2" y1="422.6" x2="404.2" y2="518" stroke="#7A7A70" stroke-width="1" stroke-dasharray="2.5 2.8"/>
<line x1="418.5" y1="422.6" x2="418.5" y2="518" stroke="#7A7A70" stroke-width="1" stroke-dasharray="2.5 2.8"/>
<line x1="432.7" y1="422.6" x2="432.7" y2="518" stroke="#7A7A70" stroke-width="1" stroke-dasharray="2.5 2.8"/>
<line x1="446.7" y1="422.6" x2="446.7" y2="518" stroke="#7A7A70" stroke-width="1" stroke-dasharray="2.5 2.8"/>
<line x1="461.5" y1="422.6" x2="461.5" y2="518" stroke="#7A7A70" stroke-width="1" stroke-dasharray="2.5 2.8"/>
<line x1="475.9" y1="422.6" x2="475.9" y2="518" stroke="#7A7A70" stroke-width="1" stroke-dasharray="2.5 2.8"/>
<line x1="490.1" y1="422.6" x2="490.1" y2="518" stroke="#7A7A70" stroke-width="1" stroke-dasharray="2.5 2.8"/>
<line x1="504.5" y1="422.6" x2="504.5" y2="518" stroke="#7A7A70" stroke-width="1" stroke-dasharray="2.5 2.8"/>
<line x1="518.6" y1="422.6" x2="518.6" y2="518" stroke="#7A7A70" stroke-width="1" stroke-dasharray="2.5 2.8"/>
<line x1="532.5" y1="422.6" x2="532.5" y2="518" stroke="#7A7A70" stroke-width="1" stroke-dasharray="2.5 2.8"/>
<line x1="546.5" y1="422.6" x2="546.5" y2="518" stroke="#7A7A70" stroke-width="1" stroke-dasharray="2.5 2.8"/>
<line x1="560.9" y1="422.6" x2="560.9" y2="518" stroke="#7A7A70" stroke-width="1" stroke-dasharray="2.5 2.8"/>
<line x1="575.1" y1="422.6" x2="575.1" y2="518" stroke="#7A7A70" stroke-width="1" stroke-dasharray="2.5 2.8"/>
<line x1="589.3" y1="422.6" x2="589.3" y2="518" stroke="#7A7A70" stroke-width="1" stroke-dasharray="2.5 2.8"/>
<line x1="603.6" y1="422.6" x2="603.6" y2="518" stroke="#7A7A70" stroke-width="1" stroke-dasharray="2.5 2.8"/>
<line x1="617.5" y1="422.6" x2="617.5" y2="518" stroke="#7A7A70" stroke-width="1" stroke-dasharray="2.5 2.8"/>
<line x1="632.3" y1="422.6" x2="632.3" y2="518" stroke="#7A7A70" stroke-width="1" stroke-dasharray="2.5 2.8"/>
<line x1="646.7" y1="422.6" x2="646.7" y2="518" stroke="#7A7A70" stroke-width="1" stroke-dasharray="2.5 2.8"/>
<line x1="661.0" y1="422.6" x2="661.0" y2="518" stroke="#7A7A70" stroke-width="1" stroke-dasharray="2.5 2.8"/>
<line x1="675.4" y1="422.6" x2="675.4" y2="518" stroke="#7A7A70" stroke-width="1" stroke-dasharray="2.5 2.8"/>
<line x1="689.6" y1="422.6" x2="689.6" y2="518" stroke="#7A7A70" stroke-width="1" stroke-dasharray="2.5 2.8"/>
<line x1="35" y1="505.5" x2="703" y2="505.5" stroke="#7A7A70" stroke-width="1" stroke-dasharray="2.5 2.8"/>
<line x1="35" y1="492.5" x2="703" y2="492.5" stroke="#7A7A70" stroke-width="1" stroke-dasharray="2.5 2.8"/>
<line x1="35" y1="479.5" x2="703" y2="479.5" stroke="#7A7A70" stroke-width="1" stroke-dasharray="2.5 2.8"/>
<line x1="35" y1="465.5" x2="703" y2="465.5" stroke="#7A7A70" stroke-width="1" stroke-dasharray="2.5 2.8"/>
<line x1="35" y1="452.5" x2="703" y2="452.5" stroke="#7A7A70" stroke-width="1" stroke-dasharray="2.5 2.8"/>
<line x1="35" y1="438.5" x2="703" y2="438.5" stroke="#7A7A70" stroke-width="1" stroke-dasharray="2.5 2.8"/>
<line x1="35" y1="425.5" x2="703" y2="425.5" stroke="#7A7A70" stroke-width="1" stroke-dasharray="2.5 2.8"/>
<rect x="35" y="423" width="668" height="1" fill="#F4F4EC" fill-opacity="0.8"/>
<rect x="35" y="423" width="1" height="95" fill="#F4F4EC" fill-opacity="0.8"/>
<rect x="35" y="517" width="668" height="1" fill="#F4F4EC" fill-opacity="0.7"/>
<polyline points="33.50,425.39 48.50,513.67 62.60,515.54 76.50,517.69 90.60,512.59 104.70,519.03 119.90,511.52 134.20,514.20 148.50,422.98 162.40,519.30 176.40,519.30 190.60,515.54 205.00,514.74 219.20,517.15 233.50,519.30 247.40,519.30 261.40,515.81 275.60,517.69 290.30,479.05 304.80,490.32 319.10,488.45 333.50,442.83 347.40,469.93 361.50,466.98 375.55,464.30 390.10,467.52 404.20,468.32 418.50,471.01 432.70,460.27 446.70,466.18 461.50,432.91 475.90,438.27 490.10,426.74 504.50,430.22 518.60,430.22 532.50,426.74 546.50,430.22 560.90,474.76 575.10,426.20 589.30,475.03 603.60,456.52 617.50,453.30 632.30,442.30 646.70,464.84 661.00,461.35 675.40,468.32 689.60,468.32 703.50,469.40" fill="none" stroke="#C8EEC8" stroke-opacity="0.55" stroke-width="3" stroke-linejoin="miter"/>
<polyline points="33.50,425.39 48.50,513.67 62.60,515.54 76.50,517.69 90.60,512.59 104.70,519.03 119.90,511.52 134.20,514.20 148.50,422.98 162.40,519.30 176.40,519.30 190.60,515.54 205.00,514.74 219.20,517.15 233.50,519.30 247.40,519.30 261.40,515.81 275.60,517.69 290.30,479.05 304.80,490.32 319.10,488.45 333.50,442.83 347.40,469.93 361.50,466.98 375.55,464.30 390.10,467.52 404.20,468.32 418.50,471.01 432.70,460.27 446.70,466.18 461.50,432.91 475.90,438.27 490.10,426.74 504.50,430.22 518.60,430.22 532.50,426.74 546.50,430.22 560.90,474.76 575.10,426.20 589.30,475.03 603.60,456.52 617.50,453.30 632.30,442.30 646.70,464.84 661.00,461.35 675.40,468.32 689.60,468.32 703.50,469.40" fill="none" stroke="#266228" stroke-width="1.05" stroke-linejoin="miter"/>
<rect x="33" y="421" width="672" height="1" fill="#F2F2E8" fill-opacity="0.7"/>
<rect x="33" y="520" width="671" height="4" fill="#F2F2E8" fill-opacity="0.55"/>
<rect x="33" y="422" width="671" height="1" fill="#2E2E2E"/>
<rect x="33" y="422" width="2" height="98" fill="#000"/>
<rect x="703" y="422" width="1" height="101" fill="#000"/>
<rect x="33" y="518" width="671" height="1" fill="#000"/>
<rect x="33" y="519" width="671" height="1" fill="#2A2A2A"/>
<line x1="48.5" y1="520" x2="48.5" y2="523" stroke="#4A4A44" stroke-width="1"/>
<line x1="62.6" y1="520" x2="62.6" y2="523" stroke="#4A4A44" stroke-width="1"/>
<line x1="76.5" y1="520" x2="76.5" y2="523" stroke="#4A4A44" stroke-width="1"/>
<line x1="90.6" y1="520" x2="90.6" y2="523" stroke="#4A4A44" stroke-width="1"/>
<line x1="104.7" y1="520" x2="104.7" y2="523" stroke="#4A4A44" stroke-width="1"/>
<line x1="119.9" y1="520" x2="119.9" y2="523" stroke="#4A4A44" stroke-width="1"/>
<line x1="134.2" y1="520" x2="134.2" y2="523" stroke="#4A4A44" stroke-width="1"/>
<line x1="148.5" y1="520" x2="148.5" y2="523" stroke="#4A4A44" stroke-width="1"/>
<line x1="162.4" y1="520" x2="162.4" y2="523" stroke="#4A4A44" stroke-width="1"/>
<line x1="176.4" y1="520" x2="176.4" y2="523" stroke="#4A4A44" stroke-width="1"/>
<line x1="190.6" y1="520" x2="190.6" y2="523" stroke="#4A4A44" stroke-width="1"/>
<line x1="205.0" y1="520" x2="205.0" y2="523" stroke="#4A4A44" stroke-width="1"/>
<line x1="219.2" y1="520" x2="219.2" y2="523" stroke="#4A4A44" stroke-width="1"/>
<line x1="233.5" y1="520" x2="233.5" y2="523" stroke="#4A4A44" stroke-width="1"/>
<line x1="247.4" y1="520" x2="247.4" y2="523" stroke="#4A4A44" stroke-width="1"/>
<line x1="261.4" y1="520" x2="261.4" y2="523" stroke="#4A4A44" stroke-width="1"/>
<line x1="275.6" y1="520" x2="275.6" y2="523" stroke="#4A4A44" stroke-width="1"/>
<line x1="290.3" y1="520" x2="290.3" y2="523" stroke="#4A4A44" stroke-width="1"/>
<line x1="304.8" y1="520" x2="304.8" y2="523" stroke="#4A4A44" stroke-width="1"/>
<line x1="319.1" y1="520" x2="319.1" y2="523" stroke="#4A4A44" stroke-width="1"/>
<line x1="333.5" y1="520" x2="333.5" y2="523" stroke="#4A4A44" stroke-width="1"/>
<line x1="347.4" y1="520" x2="347.4" y2="523" stroke="#4A4A44" stroke-width="1"/>
<line x1="361.5" y1="520" x2="361.5" y2="523" stroke="#4A4A44" stroke-width="1"/>
<line x1="375.55" y1="520" x2="375.55" y2="523" stroke="#4A4A44" stroke-width="1"/>
<line x1="390.1" y1="520" x2="390.1" y2="523" stroke="#4A4A44" stroke-width="1"/>
<line x1="404.2" y1="520" x2="404.2" y2="523" stroke="#4A4A44" stroke-width="1"/>
<line x1="418.5" y1="520" x2="418.5" y2="523" stroke="#4A4A44" stroke-width="1"/>
<line x1="432.7" y1="520" x2="432.7" y2="523" stroke="#4A4A44" stroke-width="1"/>
<line x1="446.7" y1="520" x2="446.7" y2="523" stroke="#4A4A44" stroke-width="1"/>
<line x1="461.5" y1="520" x2="461.5" y2="523" stroke="#4A4A44" stroke-width="1"/>
<line x1="475.9" y1="520" x2="475.9" y2="523" stroke="#4A4A44" stroke-width="1"/>
<line x1="490.1" y1="520" x2="490.1" y2="523" stroke="#4A4A44" stroke-width="1"/>
<line x1="504.5" y1="520" x2="504.5" y2="523" stroke="#4A4A44" stroke-width="1"/>
<line x1="518.6" y1="520" x2="518.6" y2="523" stroke="#4A4A44" stroke-width="1"/>
<line x1="532.5" y1="520" x2="532.5" y2="523" stroke="#4A4A44" stroke-width="1"/>
<line x1="546.5" y1="520" x2="546.5" y2="523" stroke="#4A4A44" stroke-width="1"/>
<line x1="560.9" y1="520" x2="560.9" y2="523" stroke="#4A4A44" stroke-width="1"/>
<line x1="575.1" y1="520" x2="575.1" y2="523" stroke="#4A4A44" stroke-width="1"/>
<line x1="589.3" y1="520" x2="589.3" y2="523" stroke="#4A4A44" stroke-width="1"/>
<line x1="603.6" y1="520" x2="603.6" y2="523" stroke="#4A4A44" stroke-width="1"/>
<line x1="617.5" y1="520" x2="617.5" y2="523" stroke="#4A4A44" stroke-width="1"/>
<line x1="632.3" y1="520" x2="632.3" y2="523" stroke="#4A4A44" stroke-width="1"/>
<line x1="646.7" y1="520" x2="646.7" y2="523" stroke="#4A4A44" stroke-width="1"/>
<line x1="661.0" y1="520" x2="661.0" y2="523" stroke="#4A4A44" stroke-width="1"/>
<line x1="675.4" y1="520" x2="675.4" y2="523" stroke="#4A4A44" stroke-width="1"/>
<line x1="689.6" y1="520" x2="689.6" y2="523" stroke="#4A4A44" stroke-width="1"/>
<line x1="703.5" y1="520" x2="703.5" y2="523" stroke="#4A4A44" stroke-width="1"/>
<line x1="36.5" y1="520.5" x2="36.5" y2="521.5" stroke="#8A8A80" stroke-width="1"/>
<line x1="39.5" y1="520.5" x2="39.5" y2="521.5" stroke="#8A8A80" stroke-width="1"/>
<line x1="42.5" y1="520.5" x2="42.5" y2="521.5" stroke="#8A8A80" stroke-width="1"/>
<line x1="45.5" y1="520.5" x2="45.5" y2="521.5" stroke="#8A8A80" stroke-width="1"/>
<line x1="51.5" y1="520.5" x2="51.5" y2="521.5" stroke="#8A8A80" stroke-width="1"/>
<line x1="54.5" y1="520.5" x2="54.5" y2="521.5" stroke="#8A8A80" stroke-width="1"/>
<line x1="56.5" y1="520.5" x2="56.5" y2="521.5" stroke="#8A8A80" stroke-width="1"/>
<line x1="59.5" y1="520.5" x2="59.5" y2="521.5" stroke="#8A8A80" stroke-width="1"/>
<line x1="65.5" y1="520.5" x2="65.5" y2="521.5" stroke="#8A8A80" stroke-width="1"/>
<line x1="68.5" y1="520.5" x2="68.5" y2="521.5" stroke="#8A8A80" stroke-width="1"/>
<line x1="70.5" y1="520.5" x2="70.5" y2="521.5" stroke="#8A8A80" stroke-width="1"/>
<line x1="73.5" y1="520.5" x2="73.5" y2="521.5" stroke="#8A8A80" stroke-width="1"/>
<line x1="79.5" y1="520.5" x2="79.5" y2="521.5" stroke="#8A8A80" stroke-width="1"/>
<line x1="82.5" y1="520.5" x2="82.5" y2="521.5" stroke="#8A8A80" stroke-width="1"/>
<line x1="84.5" y1="520.5" x2="84.5" y2="521.5" stroke="#8A8A80" stroke-width="1"/>
<line x1="87.5" y1="520.5" x2="87.5" y2="521.5" stroke="#8A8A80" stroke-width="1"/>
<line x1="93.5" y1="520.5" x2="93.5" y2="521.5" stroke="#8A8A80" stroke-width="1"/>
<line x1="96.5" y1="520.5" x2="96.5" y2="521.5" stroke="#8A8A80" stroke-width="1"/>
<line x1="99.5" y1="520.5" x2="99.5" y2="521.5" stroke="#8A8A80" stroke-width="1"/>
<line x1="101.5" y1="520.5" x2="101.5" y2="521.5" stroke="#8A8A80" stroke-width="1"/>
<line x1="107.5" y1="520.5" x2="107.5" y2="521.5" stroke="#8A8A80" stroke-width="1"/>
<line x1="110.5" y1="520.5" x2="110.5" y2="521.5" stroke="#8A8A80" stroke-width="1"/>
<line x1="113.5" y1="520.5" x2="113.5" y2="521.5" stroke="#8A8A80" stroke-width="1"/>
<line x1="116.5" y1="520.5" x2="116.5" y2="521.5" stroke="#8A8A80" stroke-width="1"/>
<line x1="122.5" y1="520.5" x2="122.5" y2="521.5" stroke="#8A8A80" stroke-width="1"/>
<line x1="125.5" y1="520.5" x2="125.5" y2="521.5" stroke="#8A8A80" stroke-width="1"/>
<line x1="128.5" y1="520.5" x2="128.5" y2="521.5" stroke="#8A8A80" stroke-width="1"/>
<line x1="131.5" y1="520.5" x2="131.5" y2="521.5" stroke="#8A8A80" stroke-width="1"/>
<line x1="137.5" y1="520.5" x2="137.5" y2="521.5" stroke="#8A8A80" stroke-width="1"/>
<line x1="139.5" y1="520.5" x2="139.5" y2="521.5" stroke="#8A8A80" stroke-width="1"/>
<line x1="142.5" y1="520.5" x2="142.5" y2="521.5" stroke="#8A8A80" stroke-width="1"/>
<line x1="145.5" y1="520.5" x2="145.5" y2="521.5" stroke="#8A8A80" stroke-width="1"/>
<line x1="151.5" y1="520.5" x2="151.5" y2="521.5" stroke="#8A8A80" stroke-width="1"/>
<line x1="154.5" y1="520.5" x2="154.5" y2="521.5" stroke="#8A8A80" stroke-width="1"/>
<line x1="156.5" y1="520.5" x2="156.5" y2="521.5" stroke="#8A8A80" stroke-width="1"/>
<line x1="159.5" y1="520.5" x2="159.5" y2="521.5" stroke="#8A8A80" stroke-width="1"/>
<line x1="165.5" y1="520.5" x2="165.5" y2="521.5" stroke="#8A8A80" stroke-width="1"/>
<line x1="168.5" y1="520.5" x2="168.5" y2="521.5" stroke="#8A8A80" stroke-width="1"/>
<line x1="170.5" y1="520.5" x2="170.5" y2="521.5" stroke="#8A8A80" stroke-width="1"/>
<line x1="173.5" y1="520.5" x2="173.5" y2="521.5" stroke="#8A8A80" stroke-width="1"/>
<line x1="179.5" y1="520.5" x2="179.5" y2="521.5" stroke="#8A8A80" stroke-width="1"/>
<line x1="182.5" y1="520.5" x2="182.5" y2="521.5" stroke="#8A8A80" stroke-width="1"/>
<line x1="184.5" y1="520.5" x2="184.5" y2="521.5" stroke="#8A8A80" stroke-width="1"/>
<line x1="187.5" y1="520.5" x2="187.5" y2="521.5" stroke="#8A8A80" stroke-width="1"/>
<line x1="193.5" y1="520.5" x2="193.5" y2="521.5" stroke="#8A8A80" stroke-width="1"/>
<line x1="196.5" y1="520.5" x2="196.5" y2="521.5" stroke="#8A8A80" stroke-width="1"/>
<line x1="199.5" y1="520.5" x2="199.5" y2="521.5" stroke="#8A8A80" stroke-width="1"/>
<line x1="202.5" y1="520.5" x2="202.5" y2="521.5" stroke="#8A8A80" stroke-width="1"/>
<line x1="207.5" y1="520.5" x2="207.5" y2="521.5" stroke="#8A8A80" stroke-width="1"/>
<line x1="210.5" y1="520.5" x2="210.5" y2="521.5" stroke="#8A8A80" stroke-width="1"/>
<line x1="213.5" y1="520.5" x2="213.5" y2="521.5" stroke="#8A8A80" stroke-width="1"/>
<line x1="216.5" y1="520.5" x2="216.5" y2="521.5" stroke="#8A8A80" stroke-width="1"/>
<line x1="222.5" y1="520.5" x2="222.5" y2="521.5" stroke="#8A8A80" stroke-width="1"/>
<line x1="224.5" y1="520.5" x2="224.5" y2="521.5" stroke="#8A8A80" stroke-width="1"/>
<line x1="227.5" y1="520.5" x2="227.5" y2="521.5" stroke="#8A8A80" stroke-width="1"/>
<line x1="230.5" y1="520.5" x2="230.5" y2="521.5" stroke="#8A8A80" stroke-width="1"/>
<line x1="236.5" y1="520.5" x2="236.5" y2="521.5" stroke="#8A8A80" stroke-width="1"/>
<line x1="239.5" y1="520.5" x2="239.5" y2="521.5" stroke="#8A8A80" stroke-width="1"/>
<line x1="241.5" y1="520.5" x2="241.5" y2="521.5" stroke="#8A8A80" stroke-width="1"/>
<line x1="244.5" y1="520.5" x2="244.5" y2="521.5" stroke="#8A8A80" stroke-width="1"/>
<line x1="250.5" y1="520.5" x2="250.5" y2="521.5" stroke="#8A8A80" stroke-width="1"/>
<line x1="252.5" y1="520.5" x2="252.5" y2="521.5" stroke="#8A8A80" stroke-width="1"/>
<line x1="255.5" y1="520.5" x2="255.5" y2="521.5" stroke="#8A8A80" stroke-width="1"/>
<line x1="258.5" y1="520.5" x2="258.5" y2="521.5" stroke="#8A8A80" stroke-width="1"/>
<line x1="264.5" y1="520.5" x2="264.5" y2="521.5" stroke="#8A8A80" stroke-width="1"/>
<line x1="267.5" y1="520.5" x2="267.5" y2="521.5" stroke="#8A8A80" stroke-width="1"/>
<line x1="269.5" y1="520.5" x2="269.5" y2="521.5" stroke="#8A8A80" stroke-width="1"/>
<line x1="272.5" y1="520.5" x2="272.5" y2="521.5" stroke="#8A8A80" stroke-width="1"/>
<line x1="278.5" y1="520.5" x2="278.5" y2="521.5" stroke="#8A8A80" stroke-width="1"/>
<line x1="281.5" y1="520.5" x2="281.5" y2="521.5" stroke="#8A8A80" stroke-width="1"/>
<line x1="284.5" y1="520.5" x2="284.5" y2="521.5" stroke="#8A8A80" stroke-width="1"/>
<line x1="287.5" y1="520.5" x2="287.5" y2="521.5" stroke="#8A8A80" stroke-width="1"/>
<line x1="293.5" y1="520.5" x2="293.5" y2="521.5" stroke="#8A8A80" stroke-width="1"/>
<line x1="296.5" y1="520.5" x2="296.5" y2="521.5" stroke="#8A8A80" stroke-width="1"/>
<line x1="298.5" y1="520.5" x2="298.5" y2="521.5" stroke="#8A8A80" stroke-width="1"/>
<line x1="301.5" y1="520.5" x2="301.5" y2="521.5" stroke="#8A8A80" stroke-width="1"/>
<line x1="307.5" y1="520.5" x2="307.5" y2="521.5" stroke="#8A8A80" stroke-width="1"/>
<line x1="310.5" y1="520.5" x2="310.5" y2="521.5" stroke="#8A8A80" stroke-width="1"/>
<line x1="313.5" y1="520.5" x2="313.5" y2="521.5" stroke="#8A8A80" stroke-width="1"/>
<line x1="316.5" y1="520.5" x2="316.5" y2="521.5" stroke="#8A8A80" stroke-width="1"/>
<line x1="321.5" y1="520.5" x2="321.5" y2="521.5" stroke="#8A8A80" stroke-width="1"/>
<line x1="324.5" y1="520.5" x2="324.5" y2="521.5" stroke="#8A8A80" stroke-width="1"/>
<line x1="327.5" y1="520.5" x2="327.5" y2="521.5" stroke="#8A8A80" stroke-width="1"/>
<line x1="330.5" y1="520.5" x2="330.5" y2="521.5" stroke="#8A8A80" stroke-width="1"/>
<line x1="336.5" y1="520.5" x2="336.5" y2="521.5" stroke="#8A8A80" stroke-width="1"/>
<line x1="339.5" y1="520.5" x2="339.5" y2="521.5" stroke="#8A8A80" stroke-width="1"/>
<line x1="341.5" y1="520.5" x2="341.5" y2="521.5" stroke="#8A8A80" stroke-width="1"/>
<line x1="344.5" y1="520.5" x2="344.5" y2="521.5" stroke="#8A8A80" stroke-width="1"/>
<line x1="350.5" y1="520.5" x2="350.5" y2="521.5" stroke="#8A8A80" stroke-width="1"/>
<line x1="353.5" y1="520.5" x2="353.5" y2="521.5" stroke="#8A8A80" stroke-width="1"/>
<line x1="355.5" y1="520.5" x2="355.5" y2="521.5" stroke="#8A8A80" stroke-width="1"/>
<line x1="358.5" y1="520.5" x2="358.5" y2="521.5" stroke="#8A8A80" stroke-width="1"/>
<line x1="364.5" y1="520.5" x2="364.5" y2="521.5" stroke="#8A8A80" stroke-width="1"/>
<line x1="367.5" y1="520.5" x2="367.5" y2="521.5" stroke="#8A8A80" stroke-width="1"/>
<line x1="369.5" y1="520.5" x2="369.5" y2="521.5" stroke="#8A8A80" stroke-width="1"/>
<line x1="372.5" y1="520.5" x2="372.5" y2="521.5" stroke="#8A8A80" stroke-width="1"/>
<line x1="378.5" y1="520.5" x2="378.5" y2="521.5" stroke="#8A8A80" stroke-width="1"/>
<line x1="381.5" y1="520.5" x2="381.5" y2="521.5" stroke="#8A8A80" stroke-width="1"/>
<line x1="384.5" y1="520.5" x2="384.5" y2="521.5" stroke="#8A8A80" stroke-width="1"/>
<line x1="387.5" y1="520.5" x2="387.5" y2="521.5" stroke="#8A8A80" stroke-width="1"/>
<line x1="392.5" y1="520.5" x2="392.5" y2="521.5" stroke="#8A8A80" stroke-width="1"/>
<line x1="395.5" y1="520.5" x2="395.5" y2="521.5" stroke="#8A8A80" stroke-width="1"/>
<line x1="398.5" y1="520.5" x2="398.5" y2="521.5" stroke="#8A8A80" stroke-width="1"/>
<line x1="401.5" y1="520.5" x2="401.5" y2="521.5" stroke="#8A8A80" stroke-width="1"/>
<line x1="407.5" y1="520.5" x2="407.5" y2="521.5" stroke="#8A8A80" stroke-width="1"/>
<line x1="409.5" y1="520.5" x2="409.5" y2="521.5" stroke="#8A8A80" stroke-width="1"/>
<line x1="412.5" y1="520.5" x2="412.5" y2="521.5" stroke="#8A8A80" stroke-width="1"/>
<line x1="415.5" y1="520.5" x2="415.5" y2="521.5" stroke="#8A8A80" stroke-width="1"/>
<line x1="421.5" y1="520.5" x2="421.5" y2="521.5" stroke="#8A8A80" stroke-width="1"/>
<line x1="424.5" y1="520.5" x2="424.5" y2="521.5" stroke="#8A8A80" stroke-width="1"/>
<line x1="427.5" y1="520.5" x2="427.5" y2="521.5" stroke="#8A8A80" stroke-width="1"/>
<line x1="429.5" y1="520.5" x2="429.5" y2="521.5" stroke="#8A8A80" stroke-width="1"/>
<line x1="435.5" y1="520.5" x2="435.5" y2="521.5" stroke="#8A8A80" stroke-width="1"/>
<line x1="438.5" y1="520.5" x2="438.5" y2="521.5" stroke="#8A8A80" stroke-width="1"/>
<line x1="441.5" y1="520.5" x2="441.5" y2="521.5" stroke="#8A8A80" stroke-width="1"/>
<line x1="443.5" y1="520.5" x2="443.5" y2="521.5" stroke="#8A8A80" stroke-width="1"/>
<line x1="449.5" y1="520.5" x2="449.5" y2="521.5" stroke="#8A8A80" stroke-width="1"/>
<line x1="452.5" y1="520.5" x2="452.5" y2="521.5" stroke="#8A8A80" stroke-width="1"/>
<line x1="455.5" y1="520.5" x2="455.5" y2="521.5" stroke="#8A8A80" stroke-width="1"/>
<line x1="458.5" y1="520.5" x2="458.5" y2="521.5" stroke="#8A8A80" stroke-width="1"/>
<line x1="464.5" y1="520.5" x2="464.5" y2="521.5" stroke="#8A8A80" stroke-width="1"/>
<line x1="467.5" y1="520.5" x2="467.5" y2="521.5" stroke="#8A8A80" stroke-width="1"/>
<line x1="470.5" y1="520.5" x2="470.5" y2="521.5" stroke="#8A8A80" stroke-width="1"/>
<line x1="473.5" y1="520.5" x2="473.5" y2="521.5" stroke="#8A8A80" stroke-width="1"/>
<line x1="478.5" y1="520.5" x2="478.5" y2="521.5" stroke="#8A8A80" stroke-width="1"/>
<line x1="481.5" y1="520.5" x2="481.5" y2="521.5" stroke="#8A8A80" stroke-width="1"/>
<line x1="484.5" y1="520.5" x2="484.5" y2="521.5" stroke="#8A8A80" stroke-width="1"/>
<line x1="487.5" y1="520.5" x2="487.5" y2="521.5" stroke="#8A8A80" stroke-width="1"/>
<line x1="492.5" y1="520.5" x2="492.5" y2="521.5" stroke="#8A8A80" stroke-width="1"/>
<line x1="495.5" y1="520.5" x2="495.5" y2="521.5" stroke="#8A8A80" stroke-width="1"/>
<line x1="498.5" y1="520.5" x2="498.5" y2="521.5" stroke="#8A8A80" stroke-width="1"/>
<line x1="501.5" y1="520.5" x2="501.5" y2="521.5" stroke="#8A8A80" stroke-width="1"/>
<line x1="507.5" y1="520.5" x2="507.5" y2="521.5" stroke="#8A8A80" stroke-width="1"/>
<line x1="510.5" y1="520.5" x2="510.5" y2="521.5" stroke="#8A8A80" stroke-width="1"/>
<line x1="512.5" y1="520.5" x2="512.5" y2="521.5" stroke="#8A8A80" stroke-width="1"/>
<line x1="515.5" y1="520.5" x2="515.5" y2="521.5" stroke="#8A8A80" stroke-width="1"/>
<line x1="521.5" y1="520.5" x2="521.5" y2="521.5" stroke="#8A8A80" stroke-width="1"/>
<line x1="524.5" y1="520.5" x2="524.5" y2="521.5" stroke="#8A8A80" stroke-width="1"/>
<line x1="526.5" y1="520.5" x2="526.5" y2="521.5" stroke="#8A8A80" stroke-width="1"/>
<line x1="529.5" y1="520.5" x2="529.5" y2="521.5" stroke="#8A8A80" stroke-width="1"/>
<line x1="535.5" y1="520.5" x2="535.5" y2="521.5" stroke="#8A8A80" stroke-width="1"/>
<line x1="538.5" y1="520.5" x2="538.5" y2="521.5" stroke="#8A8A80" stroke-width="1"/>
<line x1="540.5" y1="520.5" x2="540.5" y2="521.5" stroke="#8A8A80" stroke-width="1"/>
<line x1="543.5" y1="520.5" x2="543.5" y2="521.5" stroke="#8A8A80" stroke-width="1"/>
<line x1="549.5" y1="520.5" x2="549.5" y2="521.5" stroke="#8A8A80" stroke-width="1"/>
<line x1="552.5" y1="520.5" x2="552.5" y2="521.5" stroke="#8A8A80" stroke-width="1"/>
<line x1="555.5" y1="520.5" x2="555.5" y2="521.5" stroke="#8A8A80" stroke-width="1"/>
<line x1="558.5" y1="520.5" x2="558.5" y2="521.5" stroke="#8A8A80" stroke-width="1"/>
<line x1="563.5" y1="520.5" x2="563.5" y2="521.5" stroke="#8A8A80" stroke-width="1"/>
<line x1="566.5" y1="520.5" x2="566.5" y2="521.5" stroke="#8A8A80" stroke-width="1"/>
<line x1="569.5" y1="520.5" x2="569.5" y2="521.5" stroke="#8A8A80" stroke-width="1"/>
<line x1="572.5" y1="520.5" x2="572.5" y2="521.5" stroke="#8A8A80" stroke-width="1"/>
<line x1="577.5" y1="520.5" x2="577.5" y2="521.5" stroke="#8A8A80" stroke-width="1"/>
<line x1="580.5" y1="520.5" x2="580.5" y2="521.5" stroke="#8A8A80" stroke-width="1"/>
<line x1="583.5" y1="520.5" x2="583.5" y2="521.5" stroke="#8A8A80" stroke-width="1"/>
<line x1="586.5" y1="520.5" x2="586.5" y2="521.5" stroke="#8A8A80" stroke-width="1"/>
<line x1="592.5" y1="520.5" x2="592.5" y2="521.5" stroke="#8A8A80" stroke-width="1"/>
<line x1="595.5" y1="520.5" x2="595.5" y2="521.5" stroke="#8A8A80" stroke-width="1"/>
<line x1="597.5" y1="520.5" x2="597.5" y2="521.5" stroke="#8A8A80" stroke-width="1"/>
<line x1="600.5" y1="520.5" x2="600.5" y2="521.5" stroke="#8A8A80" stroke-width="1"/>
<line x1="606.5" y1="520.5" x2="606.5" y2="521.5" stroke="#8A8A80" stroke-width="1"/>
<line x1="609.5" y1="520.5" x2="609.5" y2="521.5" stroke="#8A8A80" stroke-width="1"/>
<line x1="611.5" y1="520.5" x2="611.5" y2="521.5" stroke="#8A8A80" stroke-width="1"/>
<line x1="614.5" y1="520.5" x2="614.5" y2="521.5" stroke="#8A8A80" stroke-width="1"/>
<line x1="620.5" y1="520.5" x2="620.5" y2="521.5" stroke="#8A8A80" stroke-width="1"/>
<line x1="623.5" y1="520.5" x2="623.5" y2="521.5" stroke="#8A8A80" stroke-width="1"/>
<line x1="626.5" y1="520.5" x2="626.5" y2="521.5" stroke="#8A8A80" stroke-width="1"/>
<line x1="629.5" y1="520.5" x2="629.5" y2="521.5" stroke="#8A8A80" stroke-width="1"/>
<line x1="635.5" y1="520.5" x2="635.5" y2="521.5" stroke="#8A8A80" stroke-width="1"/>
<line x1="638.5" y1="520.5" x2="638.5" y2="521.5" stroke="#8A8A80" stroke-width="1"/>
<line x1="640.5" y1="520.5" x2="640.5" y2="521.5" stroke="#8A8A80" stroke-width="1"/>
<line x1="643.5" y1="520.5" x2="643.5" y2="521.5" stroke="#8A8A80" stroke-width="1"/>
<line x1="649.5" y1="520.5" x2="649.5" y2="521.5" stroke="#8A8A80" stroke-width="1"/>
<line x1="652.5" y1="520.5" x2="652.5" y2="521.5" stroke="#8A8A80" stroke-width="1"/>
<line x1="655.5" y1="520.5" x2="655.5" y2="521.5" stroke="#8A8A80" stroke-width="1"/>
<line x1="658.5" y1="520.5" x2="658.5" y2="521.5" stroke="#8A8A80" stroke-width="1"/>
<line x1="663.5" y1="520.5" x2="663.5" y2="521.5" stroke="#8A8A80" stroke-width="1"/>
<line x1="666.5" y1="520.5" x2="666.5" y2="521.5" stroke="#8A8A80" stroke-width="1"/>
<line x1="669.5" y1="520.5" x2="669.5" y2="521.5" stroke="#8A8A80" stroke-width="1"/>
<line x1="672.5" y1="520.5" x2="672.5" y2="521.5" stroke="#8A8A80" stroke-width="1"/>
<line x1="678.5" y1="520.5" x2="678.5" y2="521.5" stroke="#8A8A80" stroke-width="1"/>
<line x1="681.5" y1="520.5" x2="681.5" y2="521.5" stroke="#8A8A80" stroke-width="1"/>
<line x1="683.5" y1="520.5" x2="683.5" y2="521.5" stroke="#8A8A80" stroke-width="1"/>
<line x1="686.5" y1="520.5" x2="686.5" y2="521.5" stroke="#8A8A80" stroke-width="1"/>
<line x1="692.5" y1="520.5" x2="692.5" y2="521.5" stroke="#8A8A80" stroke-width="1"/>
<line x1="695.5" y1="520.5" x2="695.5" y2="521.5" stroke="#8A8A80" stroke-width="1"/>
<line x1="697.5" y1="520.5" x2="697.5" y2="521.5" stroke="#8A8A80" stroke-width="1"/>
<line x1="700.5" y1="520.5" x2="700.5" y2="521.5" stroke="#8A8A80" stroke-width="1"/>
<text x="16.70 22.70" y="508.38" font-family="'Liberation Sans', sans-serif" font-size="8.8" fill="#111" stroke="#111" stroke-width="0.4">50</text>
<line x1="30" y1="505.5" x2="33" y2="505.5" stroke="#666" stroke-width="1"/>
<text x="10.70 16.70 22.70" y="494.97" font-family="'Liberation Sans', sans-serif" font-size="8.8" fill="#111" stroke="#111" stroke-width="0.4">100</text>
<line x1="30" y1="492.5" x2="33" y2="492.5" stroke="#666" stroke-width="1"/>
<text x="10.70 16.70 22.70" y="481.55" font-family="'Liberation Sans', sans-serif" font-size="8.8" fill="#111" stroke="#111" stroke-width="0.4">150</text>
<line x1="30" y1="479.5" x2="33" y2="479.5" stroke="#666" stroke-width="1"/>
<text x="10.70 16.70 22.70" y="468.14" font-family="'Liberation Sans', sans-serif" font-size="8.8" fill="#111" stroke="#111" stroke-width="0.4">200</text>
<line x1="30" y1="465.5" x2="33" y2="465.5" stroke="#666" stroke-width="1"/>
<text x="10.70 16.70 22.70" y="454.72" font-family="'Liberation Sans', sans-serif" font-size="8.8" fill="#111" stroke="#111" stroke-width="0.4">250</text>
<line x1="30" y1="452.5" x2="33" y2="452.5" stroke="#666" stroke-width="1"/>
<text x="10.70 16.70 22.70" y="441.31" font-family="'Liberation Sans', sans-serif" font-size="8.8" fill="#111" stroke="#111" stroke-width="0.4">300</text>
<line x1="30" y1="438.5" x2="33" y2="438.5" stroke="#666" stroke-width="1"/>
<text x="10.70 16.70 22.70" y="427.89" font-family="'Liberation Sans', sans-serif" font-size="8.8" fill="#111" stroke="#111" stroke-width="0.4">350</text>
<line x1="30" y1="425.5" x2="33" y2="425.5" stroke="#666" stroke-width="1"/>
<line x1="31.5" y1="516.5" x2="33" y2="516.5" stroke="#9A9A90" stroke-width="1"/>
<line x1="31.5" y1="513.5" x2="33" y2="513.5" stroke="#9A9A90" stroke-width="1"/>
<line x1="31.5" y1="511.5" x2="33" y2="511.5" stroke="#9A9A90" stroke-width="1"/>
<line x1="31.5" y1="508.5" x2="33" y2="508.5" stroke="#9A9A90" stroke-width="1"/>
<line x1="31.5" y1="503.5" x2="33" y2="503.5" stroke="#9A9A90" stroke-width="1"/>
<line x1="31.5" y1="500.5" x2="33" y2="500.5" stroke="#9A9A90" stroke-width="1"/>
<line x1="31.5" y1="497.5" x2="33" y2="497.5" stroke="#9A9A90" stroke-width="1"/>
<line x1="31.5" y1="495.5" x2="33" y2="495.5" stroke="#9A9A90" stroke-width="1"/>
<line x1="31.5" y1="489.5" x2="33" y2="489.5" stroke="#9A9A90" stroke-width="1"/>
<line x1="31.5" y1="487.5" x2="33" y2="487.5" stroke="#9A9A90" stroke-width="1"/>
<line x1="31.5" y1="484.5" x2="33" y2="484.5" stroke="#9A9A90" stroke-width="1"/>
<line x1="31.5" y1="481.5" x2="33" y2="481.5" stroke="#9A9A90" stroke-width="1"/>
<line x1="31.5" y1="476.5" x2="33" y2="476.5" stroke="#9A9A90" stroke-width="1"/>
<line x1="31.5" y1="473.5" x2="33" y2="473.5" stroke="#9A9A90" stroke-width="1"/>
<line x1="31.5" y1="471.5" x2="33" y2="471.5" stroke="#9A9A90" stroke-width="1"/>
<line x1="31.5" y1="468.5" x2="33" y2="468.5" stroke="#9A9A90" stroke-width="1"/>
<line x1="31.5" y1="462.5" x2="33" y2="462.5" stroke="#9A9A90" stroke-width="1"/>
<line x1="31.5" y1="460.5" x2="33" y2="460.5" stroke="#9A9A90" stroke-width="1"/>
<line x1="31.5" y1="457.5" x2="33" y2="457.5" stroke="#9A9A90" stroke-width="1"/>
<line x1="31.5" y1="454.5" x2="33" y2="454.5" stroke="#9A9A90" stroke-width="1"/>
<line x1="31.5" y1="449.5" x2="33" y2="449.5" stroke="#9A9A90" stroke-width="1"/>
<line x1="31.5" y1="446.5" x2="33" y2="446.5" stroke="#9A9A90" stroke-width="1"/>
<line x1="31.5" y1="444.5" x2="33" y2="444.5" stroke="#9A9A90" stroke-width="1"/>
<line x1="31.5" y1="441.5" x2="33" y2="441.5" stroke="#9A9A90" stroke-width="1"/>
<line x1="31.5" y1="436.5" x2="33" y2="436.5" stroke="#9A9A90" stroke-width="1"/>
<line x1="31.5" y1="433.5" x2="33" y2="433.5" stroke="#9A9A90" stroke-width="1"/>
<line x1="31.5" y1="430.5" x2="33" y2="430.5" stroke="#9A9A90" stroke-width="1"/>
<line x1="31.5" y1="428.5" x2="33" y2="428.5" stroke="#9A9A90" stroke-width="1"/>
<text x="342.9" y="415.3" text-anchor="middle" textLength="88.0" lengthAdjust="spacingAndGlyphs" text-rendering="geometricPrecision" font-family="'Liberation Sans', sans-serif" font-size="10.1" fill="#2222A8" stroke="#2222A8" stroke-width="0.3">Windrichtung (Grad)</text>
<rect x="41" y="523" width="669" height="34" fill="#EEEEE2" fill-opacity="0.3"/>
<text transform="translate(50.70,553.7) rotate(-90)" x="-0.5 5.6 12.9 17.8 23.9" font-family="'Liberation Sans', sans-serif" font-size="9.6" fill="#111" stroke="#111" stroke-width="0.4">00:30</text>
<text transform="translate(64.80,553.7) rotate(-90)" x="-0.5 5.6 12.9 17.8 23.9" font-family="'Liberation Sans', sans-serif" font-size="9.6" fill="#111" stroke="#111" stroke-width="0.4">01:00</text>
<text transform="translate(78.70,553.7) rotate(-90)" x="-0.5 5.6 12.9 17.8 23.9" font-family="'Liberation Sans', sans-serif" font-size="9.6" fill="#111" stroke="#111" stroke-width="0.4">01:30</text>
<text transform="translate(92.80,553.7) rotate(-90)" x="-0.5 5.6 12.9 17.8 23.9" font-family="'Liberation Sans', sans-serif" font-size="9.6" fill="#111" stroke="#111" stroke-width="0.4">02:00</text>
<text transform="translate(106.90,553.7) rotate(-90)" x="-0.5 5.6 12.9 17.8 23.9" font-family="'Liberation Sans', sans-serif" font-size="9.6" fill="#111" stroke="#111" stroke-width="0.4">02:30</text>
<text transform="translate(122.10,553.7) rotate(-90)" x="-0.5 5.6 12.9 17.8 23.9" font-family="'Liberation Sans', sans-serif" font-size="9.6" fill="#111" stroke="#111" stroke-width="0.4">03:00</text>
<text transform="translate(136.40,553.7) rotate(-90)" x="-0.5 5.6 12.9 17.8 23.9" font-family="'Liberation Sans', sans-serif" font-size="9.6" fill="#111" stroke="#111" stroke-width="0.4">03:30</text>
<text transform="translate(150.70,553.7) rotate(-90)" x="-0.5 5.6 12.9 17.8 23.9" font-family="'Liberation Sans', sans-serif" font-size="9.6" fill="#111" stroke="#111" stroke-width="0.4">04:00</text>
<text transform="translate(164.60,553.7) rotate(-90)" x="-0.5 5.6 12.9 17.8 23.9" font-family="'Liberation Sans', sans-serif" font-size="9.6" fill="#111" stroke="#111" stroke-width="0.4">04:30</text>
<text transform="translate(178.60,553.7) rotate(-90)" x="-0.5 5.6 12.9 17.8 23.9" font-family="'Liberation Sans', sans-serif" font-size="9.6" fill="#111" stroke="#111" stroke-width="0.4">05:00</text>
<text transform="translate(192.80,553.7) rotate(-90)" x="-0.5 5.6 12.9 17.8 23.9" font-family="'Liberation Sans', sans-serif" font-size="9.6" fill="#111" stroke="#111" stroke-width="0.4">05:30</text>
<text transform="translate(207.20,553.7) rotate(-90)" x="-0.5 5.6 12.9 17.8 23.9" font-family="'Liberation Sans', sans-serif" font-size="9.6" fill="#111" stroke="#111" stroke-width="0.4">06:00</text>
<text transform="translate(221.40,553.7) rotate(-90)" x="-0.5 5.6 12.9 17.8 23.9" font-family="'Liberation Sans', sans-serif" font-size="9.6" fill="#111" stroke="#111" stroke-width="0.4">06:30</text>
<text transform="translate(235.70,553.7) rotate(-90)" x="-0.5 5.6 12.9 17.8 23.9" font-family="'Liberation Sans', sans-serif" font-size="9.6" fill="#111" stroke="#111" stroke-width="0.4">07:00</text>
<text transform="translate(249.60,553.7) rotate(-90)" x="-0.5 5.6 12.9 17.8 23.9" font-family="'Liberation Sans', sans-serif" font-size="9.6" fill="#111" stroke="#111" stroke-width="0.4">07:30</text>
<text transform="translate(263.60,553.7) rotate(-90)" x="-0.5 5.6 12.9 17.8 23.9" font-family="'Liberation Sans', sans-serif" font-size="9.6" fill="#111" stroke="#111" stroke-width="0.4">08:00</text>
<text transform="translate(277.80,553.7) rotate(-90)" x="-0.5 5.6 12.9 17.8 23.9" font-family="'Liberation Sans', sans-serif" font-size="9.6" fill="#111" stroke="#111" stroke-width="0.4">08:30</text>
<text transform="translate(292.50,553.7) rotate(-90)" x="-0.5 5.6 12.9 17.8 23.9" font-family="'Liberation Sans', sans-serif" font-size="9.6" fill="#111" stroke="#111" stroke-width="0.4">09:00</text>
<text transform="translate(307.00,553.7) rotate(-90)" x="-0.5 5.6 12.9 17.8 23.9" font-family="'Liberation Sans', sans-serif" font-size="9.6" fill="#111" stroke="#111" stroke-width="0.4">09:30</text>
<text transform="translate(321.30,553.7) rotate(-90)" x="-0.5 5.6 12.9 17.8 23.9" font-family="'Liberation Sans', sans-serif" font-size="9.6" fill="#111" stroke="#111" stroke-width="0.4">10:00</text>
<text transform="translate(335.70,553.7) rotate(-90)" x="-0.5 5.6 12.9 17.8 23.9" font-family="'Liberation Sans', sans-serif" font-size="9.6" fill="#111" stroke="#111" stroke-width="0.4">10:30</text>
<text transform="translate(349.60,553.7) rotate(-90)" x="-0.5 5.6 12.9 17.8 23.9" font-family="'Liberation Sans', sans-serif" font-size="9.6" fill="#111" stroke="#111" stroke-width="0.4">11:00</text>
<text transform="translate(363.70,553.7) rotate(-90)" x="-0.5 5.6 12.9 17.8 23.9" font-family="'Liberation Sans', sans-serif" font-size="9.6" fill="#111" stroke="#111" stroke-width="0.4">11:30</text>
<text transform="translate(377.75,553.7) rotate(-90)" x="-0.5 5.6 12.9 17.8 23.9" font-family="'Liberation Sans', sans-serif" font-size="9.6" fill="#111" stroke="#111" stroke-width="0.4">12:00</text>
<text transform="translate(392.30,553.7) rotate(-90)" x="-0.5 5.6 12.9 17.8 23.9" font-family="'Liberation Sans', sans-serif" font-size="9.6" fill="#111" stroke="#111" stroke-width="0.4">12:30</text>
<text transform="translate(406.40,553.7) rotate(-90)" x="-0.5 5.6 12.9 17.8 23.9" font-family="'Liberation Sans', sans-serif" font-size="9.6" fill="#111" stroke="#111" stroke-width="0.4">13:00</text>
<text transform="translate(420.70,553.7) rotate(-90)" x="-0.5 5.6 12.9 17.8 23.9" font-family="'Liberation Sans', sans-serif" font-size="9.6" fill="#111" stroke="#111" stroke-width="0.4">13:30</text>
<text transform="translate(434.90,553.7) rotate(-90)" x="-0.5 5.6 12.9 17.8 23.9" font-family="'Liberation Sans', sans-serif" font-size="9.6" fill="#111" stroke="#111" stroke-width="0.4">14:00</text>
<text transform="translate(448.90,553.7) rotate(-90)" x="-0.5 5.6 12.9 17.8 23.9" font-family="'Liberation Sans', sans-serif" font-size="9.6" fill="#111" stroke="#111" stroke-width="0.4">14:30</text>
<text transform="translate(463.70,553.7) rotate(-90)" x="-0.5 5.6 12.9 17.8 23.9" font-family="'Liberation Sans', sans-serif" font-size="9.6" fill="#111" stroke="#111" stroke-width="0.4">15:00</text>
<text transform="translate(478.10,553.7) rotate(-90)" x="-0.5 5.6 12.9 17.8 23.9" font-family="'Liberation Sans', sans-serif" font-size="9.6" fill="#111" stroke="#111" stroke-width="0.4">15:30</text>
<text transform="translate(492.30,553.7) rotate(-90)" x="-0.5 5.6 12.9 17.8 23.9" font-family="'Liberation Sans', sans-serif" font-size="9.6" fill="#111" stroke="#111" stroke-width="0.4">16:00</text>
<text transform="translate(506.70,553.7) rotate(-90)" x="-0.5 5.6 12.9 17.8 23.9" font-family="'Liberation Sans', sans-serif" font-size="9.6" fill="#111" stroke="#111" stroke-width="0.4">16:30</text>
<text transform="translate(520.80,553.7) rotate(-90)" x="-0.5 5.6 12.9 17.8 23.9" font-family="'Liberation Sans', sans-serif" font-size="9.6" fill="#111" stroke="#111" stroke-width="0.4">17:00</text>
<text transform="translate(534.70,553.7) rotate(-90)" x="-0.5 5.6 12.9 17.8 23.9" font-family="'Liberation Sans', sans-serif" font-size="9.6" fill="#111" stroke="#111" stroke-width="0.4">17:30</text>
<text transform="translate(548.70,553.7) rotate(-90)" x="-0.5 5.6 12.9 17.8 23.9" font-family="'Liberation Sans', sans-serif" font-size="9.6" fill="#111" stroke="#111" stroke-width="0.4">18:00</text>
<text transform="translate(563.10,553.7) rotate(-90)" x="-0.5 5.6 12.9 17.8 23.9" font-family="'Liberation Sans', sans-serif" font-size="9.6" fill="#111" stroke="#111" stroke-width="0.4">18:30</text>
<text transform="translate(577.30,553.7) rotate(-90)" x="-0.5 5.6 12.9 17.8 23.9" font-family="'Liberation Sans', sans-serif" font-size="9.6" fill="#111" stroke="#111" stroke-width="0.4">19:00</text>
<text transform="translate(591.50,553.7) rotate(-90)" x="-0.5 5.6 12.9 17.8 23.9" font-family="'Liberation Sans', sans-serif" font-size="9.6" fill="#111" stroke="#111" stroke-width="0.4">19:30</text>
<text transform="translate(605.80,553.7) rotate(-90)" x="-0.5 5.6 12.9 17.8 23.9" font-family="'Liberation Sans', sans-serif" font-size="9.6" fill="#111" stroke="#111" stroke-width="0.4">20:00</text>
<text transform="translate(619.70,553.7) rotate(-90)" x="-0.5 5.6 12.9 17.8 23.9" font-family="'Liberation Sans', sans-serif" font-size="9.6" fill="#111" stroke="#111" stroke-width="0.4">20:30</text>
<text transform="translate(634.50,553.7) rotate(-90)" x="-0.5 5.6 12.9 17.8 23.9" font-family="'Liberation Sans', sans-serif" font-size="9.6" fill="#111" stroke="#111" stroke-width="0.4">21:00</text>
<text transform="translate(648.90,553.7) rotate(-90)" x="-0.5 5.6 12.9 17.8 23.9" font-family="'Liberation Sans', sans-serif" font-size="9.6" fill="#111" stroke="#111" stroke-width="0.4">21:30</text>
<text transform="translate(663.20,553.7) rotate(-90)" x="-0.5 5.6 12.9 17.8 23.9" font-family="'Liberation Sans', sans-serif" font-size="9.6" fill="#111" stroke="#111" stroke-width="0.4">22:00</text>
<text transform="translate(677.60,553.7) rotate(-90)" x="-0.5 5.6 12.9 17.8 23.9" font-family="'Liberation Sans', sans-serif" font-size="9.6" fill="#111" stroke="#111" stroke-width="0.4">22:30</text>
<text transform="translate(691.80,553.7) rotate(-90)" x="-0.5 5.6 12.9 17.8 23.9" font-family="'Liberation Sans', sans-serif" font-size="9.6" fill="#111" stroke="#111" stroke-width="0.4">23:00</text>
<text transform="translate(705.70,553.7) rotate(-90)" x="-0.5 5.6 12.9 17.8 23.9" font-family="'Liberation Sans', sans-serif" font-size="9.6" fill="#111" stroke="#111" stroke-width="0.4">23:30</text>
</svg>
</body></html>
